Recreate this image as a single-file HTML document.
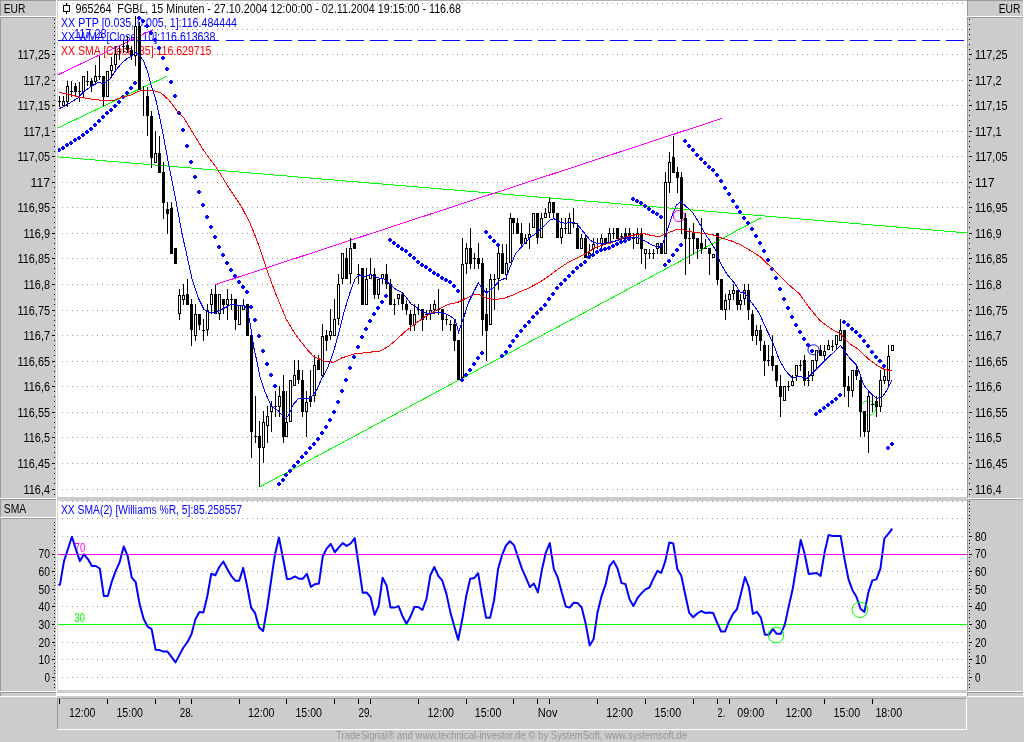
<!DOCTYPE html>
<html><head><meta charset="utf-8"><title>FGBL 15 Minuten</title>
<style>html,body{margin:0;padding:0;background:#cccccc;overflow:hidden}svg{display:block;will-change:transform}</style></head>
<body>
<svg width="1024" height="742" viewBox="0 0 1024 742" font-family="'Liberation Sans', Arial, sans-serif" font-size="12">
<rect x="0" y="0" width="1024" height="742" fill="#cccccc"/>
<g shape-rendering="crispEdges">
<rect x="56" y="0" width="2" height="696" fill="#ffffff"/>
<rect x="57" y="0" width="1" height="693" fill="#d4d4d4"/>
<rect x="58" y="1" width="909" height="496" fill="#ffffff"/>
<rect x="58" y="0" width="909" height="1" fill="#b0b0b0"/>
<rect x="58" y="501" width="909" height="189" fill="#ffffff"/>
<rect x="56" y="693" width="911" height="3" fill="#ffffff"/>
<rect x="0" y="0" width="56" height="1" fill="#999999"/>
<rect x="0" y="0" width="1" height="16" fill="#999999"/>
<rect x="0" y="16" width="56" height="1" fill="#ffffff"/>
<rect x="0" y="17" width="56" height="1" fill="#999999"/>
<rect x="0" y="17" width="1" height="481" fill="#999999"/>
<rect x="0" y="498" width="56" height="1" fill="#ffffff"/>
<rect x="0" y="499" width="56" height="1" fill="#999999"/>
<rect x="0" y="499" width="1" height="18" fill="#999999"/>
<rect x="0" y="517" width="56" height="1" fill="#ffffff"/>
<rect x="0" y="518" width="56" height="1" fill="#999999"/>
<rect x="0" y="518" width="1" height="173" fill="#999999"/>
<rect x="0" y="691" width="56" height="1" fill="#ffffff"/>
<rect x="0" y="692" width="56" height="1" fill="#999999"/>
<rect x="0" y="692" width="1" height="4" fill="#999999"/>
<rect x="0" y="696" width="57" height="1" fill="#ffffff"/>
<rect x="967" y="0" width="57" height="1" fill="#999999"/>
<rect x="967" y="0" width="1" height="16" fill="#999999"/>
<rect x="967" y="16" width="57" height="1" fill="#ffffff"/>
<rect x="967" y="17" width="57" height="1" fill="#999999"/>
<rect x="967" y="17" width="1" height="481" fill="#999999"/>
<rect x="967" y="498" width="57" height="1" fill="#ffffff"/>
<rect x="967" y="499" width="57" height="1" fill="#999999"/>
<rect x="967" y="499" width="1" height="192" fill="#999999"/>
<rect x="967" y="691" width="57" height="1" fill="#ffffff"/>
<rect x="967" y="692" width="57" height="1" fill="#999999"/>
<rect x="967" y="692" width="1" height="4" fill="#999999"/>
<rect x="967" y="696" width="57" height="1" fill="#ffffff"/>
<rect x="1023" y="0" width="1" height="697" fill="#ffffff"/>
<rect x="57" y="698" width="910" height="1" fill="#999999"/>
<rect x="57" y="698" width="1" height="32" fill="#999999"/>
<rect x="57" y="729" width="910" height="1" fill="#ffffff"/>
<rect x="966" y="698" width="1" height="32" fill="#ffffff"/>
</g>
<defs><pattern id="hd" x="2" y="0" width="5" height="1" patternUnits="userSpaceOnUse"><rect x="0" y="0" width="1" height="1" fill="#9a9a9a"/></pattern></defs>
<g shape-rendering="crispEdges">
<rect x="62" y="3" width="903" height="1" fill="url(#hd)"/>
<rect x="62" y="29" width="903" height="1" fill="url(#hd)"/>
<rect x="62" y="54" width="903" height="1" fill="url(#hd)"/>
<rect x="62" y="80" width="903" height="1" fill="url(#hd)"/>
<rect x="62" y="105" width="903" height="1" fill="url(#hd)"/>
<rect x="62" y="131" width="903" height="1" fill="url(#hd)"/>
<rect x="62" y="156" width="903" height="1" fill="url(#hd)"/>
<rect x="62" y="182" width="903" height="1" fill="url(#hd)"/>
<rect x="62" y="207" width="903" height="1" fill="url(#hd)"/>
<rect x="62" y="233" width="903" height="1" fill="url(#hd)"/>
<rect x="62" y="258" width="903" height="1" fill="url(#hd)"/>
<rect x="62" y="284" width="903" height="1" fill="url(#hd)"/>
<rect x="62" y="310" width="903" height="1" fill="url(#hd)"/>
<rect x="62" y="335" width="903" height="1" fill="url(#hd)"/>
<rect x="62" y="361" width="903" height="1" fill="url(#hd)"/>
<rect x="62" y="386" width="903" height="1" fill="url(#hd)"/>
<rect x="62" y="412" width="903" height="1" fill="url(#hd)"/>
<rect x="62" y="437" width="903" height="1" fill="url(#hd)"/>
<rect x="62" y="463" width="903" height="1" fill="url(#hd)"/>
<rect x="62" y="489" width="903" height="1" fill="url(#hd)"/>
<rect x="62" y="677" width="903" height="1" fill="url(#hd)"/>
<rect x="62" y="659" width="903" height="1" fill="url(#hd)"/>
<rect x="62" y="642" width="903" height="1" fill="url(#hd)"/>
<rect x="62" y="624" width="903" height="1" fill="url(#hd)"/>
<rect x="62" y="606" width="903" height="1" fill="url(#hd)"/>
<rect x="62" y="589" width="903" height="1" fill="url(#hd)"/>
<rect x="62" y="571" width="903" height="1" fill="url(#hd)"/>
<rect x="62" y="554" width="903" height="1" fill="url(#hd)"/>
<rect x="62" y="536" width="903" height="1" fill="url(#hd)"/>
<rect x="62" y="518" width="903" height="1" fill="url(#hd)"/>
<rect x="62" y="501" width="903" height="1" fill="url(#hd)"/>
<rect x="54" y="59" width="1" height="1" fill="#000"/>
<rect x="969" y="59" width="1" height="1" fill="#000"/>
<rect x="54" y="64" width="1" height="1" fill="#000"/>
<rect x="969" y="64" width="1" height="1" fill="#000"/>
<rect x="54" y="69" width="1" height="1" fill="#000"/>
<rect x="969" y="69" width="1" height="1" fill="#000"/>
<rect x="54" y="74" width="1" height="1" fill="#000"/>
<rect x="969" y="74" width="1" height="1" fill="#000"/>
<rect x="54" y="85" width="1" height="1" fill="#000"/>
<rect x="969" y="85" width="1" height="1" fill="#000"/>
<rect x="54" y="90" width="1" height="1" fill="#000"/>
<rect x="969" y="90" width="1" height="1" fill="#000"/>
<rect x="54" y="95" width="1" height="1" fill="#000"/>
<rect x="969" y="95" width="1" height="1" fill="#000"/>
<rect x="54" y="100" width="1" height="1" fill="#000"/>
<rect x="969" y="100" width="1" height="1" fill="#000"/>
<rect x="54" y="110" width="1" height="1" fill="#000"/>
<rect x="969" y="110" width="1" height="1" fill="#000"/>
<rect x="54" y="115" width="1" height="1" fill="#000"/>
<rect x="969" y="115" width="1" height="1" fill="#000"/>
<rect x="54" y="120" width="1" height="1" fill="#000"/>
<rect x="969" y="120" width="1" height="1" fill="#000"/>
<rect x="54" y="125" width="1" height="1" fill="#000"/>
<rect x="969" y="125" width="1" height="1" fill="#000"/>
<rect x="54" y="136" width="1" height="1" fill="#000"/>
<rect x="969" y="136" width="1" height="1" fill="#000"/>
<rect x="54" y="141" width="1" height="1" fill="#000"/>
<rect x="969" y="141" width="1" height="1" fill="#000"/>
<rect x="54" y="146" width="1" height="1" fill="#000"/>
<rect x="969" y="146" width="1" height="1" fill="#000"/>
<rect x="54" y="151" width="1" height="1" fill="#000"/>
<rect x="969" y="151" width="1" height="1" fill="#000"/>
<rect x="54" y="161" width="1" height="1" fill="#000"/>
<rect x="969" y="161" width="1" height="1" fill="#000"/>
<rect x="54" y="166" width="1" height="1" fill="#000"/>
<rect x="969" y="166" width="1" height="1" fill="#000"/>
<rect x="54" y="171" width="1" height="1" fill="#000"/>
<rect x="969" y="171" width="1" height="1" fill="#000"/>
<rect x="54" y="176" width="1" height="1" fill="#000"/>
<rect x="969" y="176" width="1" height="1" fill="#000"/>
<rect x="54" y="187" width="1" height="1" fill="#000"/>
<rect x="969" y="187" width="1" height="1" fill="#000"/>
<rect x="54" y="192" width="1" height="1" fill="#000"/>
<rect x="969" y="192" width="1" height="1" fill="#000"/>
<rect x="54" y="197" width="1" height="1" fill="#000"/>
<rect x="969" y="197" width="1" height="1" fill="#000"/>
<rect x="54" y="202" width="1" height="1" fill="#000"/>
<rect x="969" y="202" width="1" height="1" fill="#000"/>
<rect x="54" y="212" width="1" height="1" fill="#000"/>
<rect x="969" y="212" width="1" height="1" fill="#000"/>
<rect x="54" y="217" width="1" height="1" fill="#000"/>
<rect x="969" y="217" width="1" height="1" fill="#000"/>
<rect x="54" y="222" width="1" height="1" fill="#000"/>
<rect x="969" y="222" width="1" height="1" fill="#000"/>
<rect x="54" y="227" width="1" height="1" fill="#000"/>
<rect x="969" y="227" width="1" height="1" fill="#000"/>
<rect x="54" y="238" width="1" height="1" fill="#000"/>
<rect x="969" y="238" width="1" height="1" fill="#000"/>
<rect x="54" y="243" width="1" height="1" fill="#000"/>
<rect x="969" y="243" width="1" height="1" fill="#000"/>
<rect x="54" y="248" width="1" height="1" fill="#000"/>
<rect x="969" y="248" width="1" height="1" fill="#000"/>
<rect x="54" y="253" width="1" height="1" fill="#000"/>
<rect x="969" y="253" width="1" height="1" fill="#000"/>
<rect x="54" y="263" width="1" height="1" fill="#000"/>
<rect x="969" y="263" width="1" height="1" fill="#000"/>
<rect x="54" y="268" width="1" height="1" fill="#000"/>
<rect x="969" y="268" width="1" height="1" fill="#000"/>
<rect x="54" y="273" width="1" height="1" fill="#000"/>
<rect x="969" y="273" width="1" height="1" fill="#000"/>
<rect x="54" y="278" width="1" height="1" fill="#000"/>
<rect x="969" y="278" width="1" height="1" fill="#000"/>
<rect x="54" y="289" width="1" height="1" fill="#000"/>
<rect x="969" y="289" width="1" height="1" fill="#000"/>
<rect x="54" y="294" width="1" height="1" fill="#000"/>
<rect x="969" y="294" width="1" height="1" fill="#000"/>
<rect x="54" y="299" width="1" height="1" fill="#000"/>
<rect x="969" y="299" width="1" height="1" fill="#000"/>
<rect x="54" y="304" width="1" height="1" fill="#000"/>
<rect x="969" y="304" width="1" height="1" fill="#000"/>
<rect x="54" y="315" width="1" height="1" fill="#000"/>
<rect x="969" y="315" width="1" height="1" fill="#000"/>
<rect x="54" y="320" width="1" height="1" fill="#000"/>
<rect x="969" y="320" width="1" height="1" fill="#000"/>
<rect x="54" y="325" width="1" height="1" fill="#000"/>
<rect x="969" y="325" width="1" height="1" fill="#000"/>
<rect x="54" y="330" width="1" height="1" fill="#000"/>
<rect x="969" y="330" width="1" height="1" fill="#000"/>
<rect x="54" y="340" width="1" height="1" fill="#000"/>
<rect x="969" y="340" width="1" height="1" fill="#000"/>
<rect x="54" y="345" width="1" height="1" fill="#000"/>
<rect x="969" y="345" width="1" height="1" fill="#000"/>
<rect x="54" y="350" width="1" height="1" fill="#000"/>
<rect x="969" y="350" width="1" height="1" fill="#000"/>
<rect x="54" y="355" width="1" height="1" fill="#000"/>
<rect x="969" y="355" width="1" height="1" fill="#000"/>
<rect x="54" y="366" width="1" height="1" fill="#000"/>
<rect x="969" y="366" width="1" height="1" fill="#000"/>
<rect x="54" y="371" width="1" height="1" fill="#000"/>
<rect x="969" y="371" width="1" height="1" fill="#000"/>
<rect x="54" y="376" width="1" height="1" fill="#000"/>
<rect x="969" y="376" width="1" height="1" fill="#000"/>
<rect x="54" y="381" width="1" height="1" fill="#000"/>
<rect x="969" y="381" width="1" height="1" fill="#000"/>
<rect x="54" y="391" width="1" height="1" fill="#000"/>
<rect x="969" y="391" width="1" height="1" fill="#000"/>
<rect x="54" y="396" width="1" height="1" fill="#000"/>
<rect x="969" y="396" width="1" height="1" fill="#000"/>
<rect x="54" y="401" width="1" height="1" fill="#000"/>
<rect x="969" y="401" width="1" height="1" fill="#000"/>
<rect x="54" y="406" width="1" height="1" fill="#000"/>
<rect x="969" y="406" width="1" height="1" fill="#000"/>
<rect x="54" y="417" width="1" height="1" fill="#000"/>
<rect x="969" y="417" width="1" height="1" fill="#000"/>
<rect x="54" y="422" width="1" height="1" fill="#000"/>
<rect x="969" y="422" width="1" height="1" fill="#000"/>
<rect x="54" y="427" width="1" height="1" fill="#000"/>
<rect x="969" y="427" width="1" height="1" fill="#000"/>
<rect x="54" y="432" width="1" height="1" fill="#000"/>
<rect x="969" y="432" width="1" height="1" fill="#000"/>
<rect x="54" y="442" width="1" height="1" fill="#000"/>
<rect x="969" y="442" width="1" height="1" fill="#000"/>
<rect x="54" y="447" width="1" height="1" fill="#000"/>
<rect x="969" y="447" width="1" height="1" fill="#000"/>
<rect x="54" y="452" width="1" height="1" fill="#000"/>
<rect x="969" y="452" width="1" height="1" fill="#000"/>
<rect x="54" y="457" width="1" height="1" fill="#000"/>
<rect x="969" y="457" width="1" height="1" fill="#000"/>
<rect x="54" y="468" width="1" height="1" fill="#000"/>
<rect x="969" y="468" width="1" height="1" fill="#000"/>
<rect x="54" y="473" width="1" height="1" fill="#000"/>
<rect x="969" y="473" width="1" height="1" fill="#000"/>
<rect x="54" y="478" width="1" height="1" fill="#000"/>
<rect x="969" y="478" width="1" height="1" fill="#000"/>
<rect x="54" y="483" width="1" height="1" fill="#000"/>
<rect x="969" y="483" width="1" height="1" fill="#000"/>
<rect x="54" y="494" width="1" height="1" fill="#000"/>
<rect x="969" y="494" width="1" height="1" fill="#000"/>
<rect x="969" y="19" width="1" height="1" fill="#000"/>
<rect x="969" y="24" width="1" height="1" fill="#000"/>
<rect x="969" y="29" width="1" height="1" fill="#000"/>
<rect x="969" y="34" width="1" height="1" fill="#000"/>
<rect x="969" y="39" width="1" height="1" fill="#000"/>
<rect x="969" y="44" width="1" height="1" fill="#000"/>
<rect x="969" y="49" width="1" height="1" fill="#000"/>
<rect x="54" y="19" width="1" height="1" fill="#000"/>
<rect x="54" y="23" width="1" height="1" fill="#000"/>
<rect x="54" y="27" width="1" height="1" fill="#000"/>
<rect x="54" y="31" width="1" height="1" fill="#000"/>
<rect x="54" y="35" width="1" height="1" fill="#000"/>
<rect x="54" y="39" width="1" height="1" fill="#000"/>
<rect x="54" y="43" width="1" height="1" fill="#000"/>
<rect x="54" y="47" width="1" height="1" fill="#000"/>
<rect x="54" y="51" width="1" height="1" fill="#000"/>
<rect x="52" y="489" width="3" height="1" fill="#000"/>
<rect x="969" y="489" width="3" height="1" fill="#000"/>
<rect x="52" y="463" width="3" height="1" fill="#000"/>
<rect x="969" y="463" width="3" height="1" fill="#000"/>
<rect x="52" y="437" width="3" height="1" fill="#000"/>
<rect x="969" y="437" width="3" height="1" fill="#000"/>
<rect x="52" y="412" width="3" height="1" fill="#000"/>
<rect x="969" y="412" width="3" height="1" fill="#000"/>
<rect x="52" y="386" width="3" height="1" fill="#000"/>
<rect x="969" y="386" width="3" height="1" fill="#000"/>
<rect x="52" y="361" width="3" height="1" fill="#000"/>
<rect x="969" y="361" width="3" height="1" fill="#000"/>
<rect x="52" y="335" width="3" height="1" fill="#000"/>
<rect x="969" y="335" width="3" height="1" fill="#000"/>
<rect x="52" y="310" width="3" height="1" fill="#000"/>
<rect x="969" y="310" width="3" height="1" fill="#000"/>
<rect x="52" y="284" width="3" height="1" fill="#000"/>
<rect x="969" y="284" width="3" height="1" fill="#000"/>
<rect x="52" y="258" width="3" height="1" fill="#000"/>
<rect x="969" y="258" width="3" height="1" fill="#000"/>
<rect x="52" y="233" width="3" height="1" fill="#000"/>
<rect x="969" y="233" width="3" height="1" fill="#000"/>
<rect x="52" y="207" width="3" height="1" fill="#000"/>
<rect x="969" y="207" width="3" height="1" fill="#000"/>
<rect x="52" y="182" width="3" height="1" fill="#000"/>
<rect x="969" y="182" width="3" height="1" fill="#000"/>
<rect x="52" y="156" width="3" height="1" fill="#000"/>
<rect x="969" y="156" width="3" height="1" fill="#000"/>
<rect x="52" y="131" width="3" height="1" fill="#000"/>
<rect x="969" y="131" width="3" height="1" fill="#000"/>
<rect x="52" y="105" width="3" height="1" fill="#000"/>
<rect x="969" y="105" width="3" height="1" fill="#000"/>
<rect x="52" y="80" width="3" height="1" fill="#000"/>
<rect x="969" y="80" width="3" height="1" fill="#000"/>
<rect x="52" y="54" width="3" height="1" fill="#000"/>
<rect x="969" y="54" width="3" height="1" fill="#000"/>
<rect x="54" y="687" width="1" height="1" fill="#000"/>
<rect x="969" y="687" width="1" height="1" fill="#000"/>
<rect x="54" y="684" width="1" height="1" fill="#000"/>
<rect x="969" y="684" width="1" height="1" fill="#000"/>
<rect x="54" y="680" width="1" height="1" fill="#000"/>
<rect x="969" y="680" width="1" height="1" fill="#000"/>
<rect x="54" y="677" width="1" height="1" fill="#000"/>
<rect x="969" y="677" width="1" height="1" fill="#000"/>
<rect x="54" y="673" width="1" height="1" fill="#000"/>
<rect x="969" y="673" width="1" height="1" fill="#000"/>
<rect x="54" y="670" width="1" height="1" fill="#000"/>
<rect x="969" y="670" width="1" height="1" fill="#000"/>
<rect x="54" y="666" width="1" height="1" fill="#000"/>
<rect x="969" y="666" width="1" height="1" fill="#000"/>
<rect x="54" y="663" width="1" height="1" fill="#000"/>
<rect x="969" y="663" width="1" height="1" fill="#000"/>
<rect x="54" y="659" width="1" height="1" fill="#000"/>
<rect x="969" y="659" width="1" height="1" fill="#000"/>
<rect x="54" y="656" width="1" height="1" fill="#000"/>
<rect x="969" y="656" width="1" height="1" fill="#000"/>
<rect x="54" y="652" width="1" height="1" fill="#000"/>
<rect x="969" y="652" width="1" height="1" fill="#000"/>
<rect x="54" y="649" width="1" height="1" fill="#000"/>
<rect x="969" y="649" width="1" height="1" fill="#000"/>
<rect x="54" y="645" width="1" height="1" fill="#000"/>
<rect x="969" y="645" width="1" height="1" fill="#000"/>
<rect x="54" y="642" width="1" height="1" fill="#000"/>
<rect x="969" y="642" width="1" height="1" fill="#000"/>
<rect x="54" y="638" width="1" height="1" fill="#000"/>
<rect x="969" y="638" width="1" height="1" fill="#000"/>
<rect x="54" y="635" width="1" height="1" fill="#000"/>
<rect x="969" y="635" width="1" height="1" fill="#000"/>
<rect x="54" y="631" width="1" height="1" fill="#000"/>
<rect x="969" y="631" width="1" height="1" fill="#000"/>
<rect x="54" y="628" width="1" height="1" fill="#000"/>
<rect x="969" y="628" width="1" height="1" fill="#000"/>
<rect x="54" y="624" width="1" height="1" fill="#000"/>
<rect x="969" y="624" width="1" height="1" fill="#000"/>
<rect x="54" y="621" width="1" height="1" fill="#000"/>
<rect x="969" y="621" width="1" height="1" fill="#000"/>
<rect x="54" y="617" width="1" height="1" fill="#000"/>
<rect x="969" y="617" width="1" height="1" fill="#000"/>
<rect x="54" y="613" width="1" height="1" fill="#000"/>
<rect x="969" y="613" width="1" height="1" fill="#000"/>
<rect x="54" y="610" width="1" height="1" fill="#000"/>
<rect x="969" y="610" width="1" height="1" fill="#000"/>
<rect x="54" y="606" width="1" height="1" fill="#000"/>
<rect x="969" y="606" width="1" height="1" fill="#000"/>
<rect x="54" y="603" width="1" height="1" fill="#000"/>
<rect x="969" y="603" width="1" height="1" fill="#000"/>
<rect x="54" y="599" width="1" height="1" fill="#000"/>
<rect x="969" y="599" width="1" height="1" fill="#000"/>
<rect x="54" y="596" width="1" height="1" fill="#000"/>
<rect x="969" y="596" width="1" height="1" fill="#000"/>
<rect x="54" y="592" width="1" height="1" fill="#000"/>
<rect x="969" y="592" width="1" height="1" fill="#000"/>
<rect x="54" y="589" width="1" height="1" fill="#000"/>
<rect x="969" y="589" width="1" height="1" fill="#000"/>
<rect x="54" y="585" width="1" height="1" fill="#000"/>
<rect x="969" y="585" width="1" height="1" fill="#000"/>
<rect x="54" y="582" width="1" height="1" fill="#000"/>
<rect x="969" y="582" width="1" height="1" fill="#000"/>
<rect x="54" y="578" width="1" height="1" fill="#000"/>
<rect x="969" y="578" width="1" height="1" fill="#000"/>
<rect x="54" y="575" width="1" height="1" fill="#000"/>
<rect x="969" y="575" width="1" height="1" fill="#000"/>
<rect x="54" y="571" width="1" height="1" fill="#000"/>
<rect x="969" y="571" width="1" height="1" fill="#000"/>
<rect x="54" y="568" width="1" height="1" fill="#000"/>
<rect x="969" y="568" width="1" height="1" fill="#000"/>
<rect x="54" y="564" width="1" height="1" fill="#000"/>
<rect x="969" y="564" width="1" height="1" fill="#000"/>
<rect x="54" y="561" width="1" height="1" fill="#000"/>
<rect x="969" y="561" width="1" height="1" fill="#000"/>
<rect x="54" y="557" width="1" height="1" fill="#000"/>
<rect x="969" y="557" width="1" height="1" fill="#000"/>
<rect x="54" y="554" width="1" height="1" fill="#000"/>
<rect x="969" y="554" width="1" height="1" fill="#000"/>
<rect x="54" y="550" width="1" height="1" fill="#000"/>
<rect x="969" y="550" width="1" height="1" fill="#000"/>
<rect x="54" y="547" width="1" height="1" fill="#000"/>
<rect x="969" y="547" width="1" height="1" fill="#000"/>
<rect x="54" y="543" width="1" height="1" fill="#000"/>
<rect x="969" y="543" width="1" height="1" fill="#000"/>
<rect x="54" y="540" width="1" height="1" fill="#000"/>
<rect x="969" y="540" width="1" height="1" fill="#000"/>
<rect x="54" y="536" width="1" height="1" fill="#000"/>
<rect x="969" y="536" width="1" height="1" fill="#000"/>
<rect x="54" y="532" width="1" height="1" fill="#000"/>
<rect x="969" y="532" width="1" height="1" fill="#000"/>
<rect x="54" y="529" width="1" height="1" fill="#000"/>
<rect x="969" y="529" width="1" height="1" fill="#000"/>
<rect x="54" y="525" width="1" height="1" fill="#000"/>
<rect x="969" y="525" width="1" height="1" fill="#000"/>
<rect x="54" y="522" width="1" height="1" fill="#000"/>
<rect x="969" y="522" width="1" height="1" fill="#000"/>
<rect x="969" y="518" width="1" height="1" fill="#000"/>
<rect x="969" y="515" width="1" height="1" fill="#000"/>
<rect x="969" y="511" width="1" height="1" fill="#000"/>
<rect x="969" y="508" width="1" height="1" fill="#000"/>
<rect x="969" y="504" width="1" height="1" fill="#000"/>
<rect x="969" y="501" width="1" height="1" fill="#000"/>
<rect x="52" y="677" width="3" height="1" fill="#000"/>
<rect x="969" y="677" width="3" height="1" fill="#000"/>
<rect x="52" y="659" width="3" height="1" fill="#000"/>
<rect x="969" y="659" width="3" height="1" fill="#000"/>
<rect x="52" y="642" width="3" height="1" fill="#000"/>
<rect x="969" y="642" width="3" height="1" fill="#000"/>
<rect x="52" y="624" width="3" height="1" fill="#000"/>
<rect x="969" y="624" width="3" height="1" fill="#000"/>
<rect x="52" y="606" width="3" height="1" fill="#000"/>
<rect x="969" y="606" width="3" height="1" fill="#000"/>
<rect x="52" y="589" width="3" height="1" fill="#000"/>
<rect x="969" y="589" width="3" height="1" fill="#000"/>
<rect x="52" y="571" width="3" height="1" fill="#000"/>
<rect x="969" y="571" width="3" height="1" fill="#000"/>
<rect x="52" y="554" width="3" height="1" fill="#000"/>
<rect x="969" y="554" width="3" height="1" fill="#000"/>
<rect x="969" y="536" width="3" height="1" fill="#000"/>
<rect x="59" y="699" width="1" height="5" fill="#000"/>
<rect x="107" y="699" width="1" height="5" fill="#000"/>
<rect x="155" y="699" width="1" height="5" fill="#000"/>
<rect x="179" y="699" width="1" height="5" fill="#000"/>
<rect x="191" y="699" width="1" height="5" fill="#000"/>
<rect x="239" y="699" width="1" height="5" fill="#000"/>
<rect x="286" y="699" width="1" height="5" fill="#000"/>
<rect x="334" y="699" width="1" height="5" fill="#000"/>
<rect x="358" y="699" width="1" height="5" fill="#000"/>
<rect x="370" y="699" width="1" height="5" fill="#000"/>
<rect x="418" y="699" width="1" height="5" fill="#000"/>
<rect x="466" y="699" width="1" height="5" fill="#000"/>
<rect x="513" y="699" width="1" height="5" fill="#000"/>
<rect x="537" y="699" width="1" height="5" fill="#000"/>
<rect x="549" y="699" width="1" height="5" fill="#000"/>
<rect x="597" y="699" width="1" height="5" fill="#000"/>
<rect x="645" y="699" width="1" height="5" fill="#000"/>
<rect x="693" y="699" width="1" height="5" fill="#000"/>
<rect x="717" y="699" width="1" height="5" fill="#000"/>
<rect x="729" y="699" width="1" height="5" fill="#000"/>
<rect x="776" y="699" width="1" height="5" fill="#000"/>
<rect x="824" y="699" width="1" height="5" fill="#000"/>
<rect x="872" y="699" width="1" height="5" fill="#000"/>
</g>
<text x="23.5" y="493.8" fill="#000" text-anchor="start" font-size="12" textLength="26.5" lengthAdjust="spacingAndGlyphs">116,4</text>
<text x="975" y="493.8" fill="#000" text-anchor="start" font-size="12" textLength="26.5" lengthAdjust="spacingAndGlyphs">116,4</text>
<text x="17.5" y="467.8" fill="#000" text-anchor="start" font-size="12" textLength="32.5" lengthAdjust="spacingAndGlyphs">116,45</text>
<text x="975" y="467.8" fill="#000" text-anchor="start" font-size="12" textLength="32.5" lengthAdjust="spacingAndGlyphs">116,45</text>
<text x="23.5" y="441.8" fill="#000" text-anchor="start" font-size="12" textLength="26.5" lengthAdjust="spacingAndGlyphs">116,5</text>
<text x="975" y="441.8" fill="#000" text-anchor="start" font-size="12" textLength="26.5" lengthAdjust="spacingAndGlyphs">116,5</text>
<text x="17.5" y="416.8" fill="#000" text-anchor="start" font-size="12" textLength="32.5" lengthAdjust="spacingAndGlyphs">116,55</text>
<text x="975" y="416.8" fill="#000" text-anchor="start" font-size="12" textLength="32.5" lengthAdjust="spacingAndGlyphs">116,55</text>
<text x="23.5" y="390.8" fill="#000" text-anchor="start" font-size="12" textLength="26.5" lengthAdjust="spacingAndGlyphs">116,6</text>
<text x="975" y="390.8" fill="#000" text-anchor="start" font-size="12" textLength="26.5" lengthAdjust="spacingAndGlyphs">116,6</text>
<text x="17.5" y="365.8" fill="#000" text-anchor="start" font-size="12" textLength="32.5" lengthAdjust="spacingAndGlyphs">116,65</text>
<text x="975" y="365.8" fill="#000" text-anchor="start" font-size="12" textLength="32.5" lengthAdjust="spacingAndGlyphs">116,65</text>
<text x="23.5" y="339.8" fill="#000" text-anchor="start" font-size="12" textLength="26.5" lengthAdjust="spacingAndGlyphs">116,7</text>
<text x="975" y="339.8" fill="#000" text-anchor="start" font-size="12" textLength="26.5" lengthAdjust="spacingAndGlyphs">116,7</text>
<text x="17.5" y="314.8" fill="#000" text-anchor="start" font-size="12" textLength="32.5" lengthAdjust="spacingAndGlyphs">116,75</text>
<text x="975" y="314.8" fill="#000" text-anchor="start" font-size="12" textLength="32.5" lengthAdjust="spacingAndGlyphs">116,75</text>
<text x="23.5" y="288.8" fill="#000" text-anchor="start" font-size="12" textLength="26.5" lengthAdjust="spacingAndGlyphs">116,8</text>
<text x="975" y="288.8" fill="#000" text-anchor="start" font-size="12" textLength="26.5" lengthAdjust="spacingAndGlyphs">116,8</text>
<text x="17.5" y="262.8" fill="#000" text-anchor="start" font-size="12" textLength="32.5" lengthAdjust="spacingAndGlyphs">116,85</text>
<text x="975" y="262.8" fill="#000" text-anchor="start" font-size="12" textLength="32.5" lengthAdjust="spacingAndGlyphs">116,85</text>
<text x="23.5" y="237.8" fill="#000" text-anchor="start" font-size="12" textLength="26.5" lengthAdjust="spacingAndGlyphs">116,9</text>
<text x="975" y="237.8" fill="#000" text-anchor="start" font-size="12" textLength="26.5" lengthAdjust="spacingAndGlyphs">116,9</text>
<text x="17.5" y="211.8" fill="#000" text-anchor="start" font-size="12" textLength="32.5" lengthAdjust="spacingAndGlyphs">116,95</text>
<text x="975" y="211.8" fill="#000" text-anchor="start" font-size="12" textLength="32.5" lengthAdjust="spacingAndGlyphs">116,95</text>
<text x="30.5" y="186.8" fill="#000" text-anchor="start" font-size="12" textLength="19.5" lengthAdjust="spacingAndGlyphs">117</text>
<text x="975" y="186.8" fill="#000" text-anchor="start" font-size="12" textLength="19.5" lengthAdjust="spacingAndGlyphs">117</text>
<text x="17.5" y="160.8" fill="#000" text-anchor="start" font-size="12" textLength="32.5" lengthAdjust="spacingAndGlyphs">117,05</text>
<text x="975" y="160.8" fill="#000" text-anchor="start" font-size="12" textLength="32.5" lengthAdjust="spacingAndGlyphs">117,05</text>
<text x="23.5" y="135.8" fill="#000" text-anchor="start" font-size="12" textLength="26.5" lengthAdjust="spacingAndGlyphs">117,1</text>
<text x="975" y="135.8" fill="#000" text-anchor="start" font-size="12" textLength="26.5" lengthAdjust="spacingAndGlyphs">117,1</text>
<text x="17.5" y="109.8" fill="#000" text-anchor="start" font-size="12" textLength="32.5" lengthAdjust="spacingAndGlyphs">117,15</text>
<text x="975" y="109.8" fill="#000" text-anchor="start" font-size="12" textLength="32.5" lengthAdjust="spacingAndGlyphs">117,15</text>
<text x="23.5" y="84.8" fill="#000" text-anchor="start" font-size="12" textLength="26.5" lengthAdjust="spacingAndGlyphs">117,2</text>
<text x="975" y="84.8" fill="#000" text-anchor="start" font-size="12" textLength="26.5" lengthAdjust="spacingAndGlyphs">117,2</text>
<text x="17.5" y="58.8" fill="#000" text-anchor="start" font-size="12" textLength="32.5" lengthAdjust="spacingAndGlyphs">117,25</text>
<text x="975" y="58.8" fill="#000" text-anchor="start" font-size="12" textLength="32.5" lengthAdjust="spacingAndGlyphs">117,25</text>
<text x="44.5" y="681.7" fill="#000" text-anchor="start" font-size="12" textLength="5.5" lengthAdjust="spacingAndGlyphs">0</text>
<text x="975" y="681.7" fill="#000" text-anchor="start" font-size="12" textLength="5.5" lengthAdjust="spacingAndGlyphs">0</text>
<text x="38.5" y="664.1" fill="#000" text-anchor="start" font-size="12" textLength="11.5" lengthAdjust="spacingAndGlyphs">10</text>
<text x="975" y="664.1" fill="#000" text-anchor="start" font-size="12" textLength="11.5" lengthAdjust="spacingAndGlyphs">10</text>
<text x="38.5" y="646.5" fill="#000" text-anchor="start" font-size="12" textLength="11.5" lengthAdjust="spacingAndGlyphs">20</text>
<text x="975" y="646.5" fill="#000" text-anchor="start" font-size="12" textLength="11.5" lengthAdjust="spacingAndGlyphs">20</text>
<text x="38.5" y="628.9" fill="#000" text-anchor="start" font-size="12" textLength="11.5" lengthAdjust="spacingAndGlyphs">30</text>
<text x="975" y="628.9" fill="#000" text-anchor="start" font-size="12" textLength="11.5" lengthAdjust="spacingAndGlyphs">30</text>
<text x="38.5" y="611.2" fill="#000" text-anchor="start" font-size="12" textLength="11.5" lengthAdjust="spacingAndGlyphs">40</text>
<text x="975" y="611.2" fill="#000" text-anchor="start" font-size="12" textLength="11.5" lengthAdjust="spacingAndGlyphs">40</text>
<text x="38.5" y="593.6" fill="#000" text-anchor="start" font-size="12" textLength="11.5" lengthAdjust="spacingAndGlyphs">50</text>
<text x="975" y="593.6" fill="#000" text-anchor="start" font-size="12" textLength="11.5" lengthAdjust="spacingAndGlyphs">50</text>
<text x="38.5" y="576.0" fill="#000" text-anchor="start" font-size="12" textLength="11.5" lengthAdjust="spacingAndGlyphs">60</text>
<text x="975" y="576.0" fill="#000" text-anchor="start" font-size="12" textLength="11.5" lengthAdjust="spacingAndGlyphs">60</text>
<text x="38.5" y="558.4" fill="#000" text-anchor="start" font-size="12" textLength="11.5" lengthAdjust="spacingAndGlyphs">70</text>
<text x="975" y="558.4" fill="#000" text-anchor="start" font-size="12" textLength="11.5" lengthAdjust="spacingAndGlyphs">70</text>
<text x="975" y="540.8" fill="#000" text-anchor="start" font-size="12" textLength="11.5" lengthAdjust="spacingAndGlyphs">80</text>
<text x="3.8" y="13" fill="#000" text-anchor="start" font-size="12" textLength="21.6" lengthAdjust="spacingAndGlyphs">EUR</text>
<text x="998.8" y="13" fill="#000" text-anchor="start" font-size="12" textLength="21.6" lengthAdjust="spacingAndGlyphs">EUR</text>
<text x="3.8" y="513" fill="#000" text-anchor="start" font-size="12" textLength="22.5" lengthAdjust="spacingAndGlyphs">SMA</text>
<text x="68.9" y="717" fill="#000" text-anchor="start" font-size="12" textLength="26.6" lengthAdjust="spacingAndGlyphs">12:00</text>
<text x="116.4" y="717" fill="#000" text-anchor="start" font-size="12" textLength="26.6" lengthAdjust="spacingAndGlyphs">15:00</text>
<text x="179.7" y="717" fill="#000" text-anchor="start" font-size="12" textLength="13.6" lengthAdjust="spacingAndGlyphs">28.</text>
<text x="247.9" y="717" fill="#000" text-anchor="start" font-size="12" textLength="26.6" lengthAdjust="spacingAndGlyphs">12:00</text>
<text x="295.4" y="717" fill="#000" text-anchor="start" font-size="12" textLength="26.6" lengthAdjust="spacingAndGlyphs">15:00</text>
<text x="358.6" y="717" fill="#000" text-anchor="start" font-size="12" textLength="13.6" lengthAdjust="spacingAndGlyphs">29.</text>
<text x="427.4" y="717" fill="#000" text-anchor="start" font-size="12" textLength="26.6" lengthAdjust="spacingAndGlyphs">12:00</text>
<text x="474.8" y="717" fill="#000" text-anchor="start" font-size="12" textLength="26.6" lengthAdjust="spacingAndGlyphs">15:00</text>
<text x="537.8" y="717" fill="#000" text-anchor="start" font-size="12" textLength="19.6" lengthAdjust="spacingAndGlyphs">Nov</text>
<text x="606.3" y="717" fill="#000" text-anchor="start" font-size="12" textLength="26.6" lengthAdjust="spacingAndGlyphs">12:00</text>
<text x="654.5" y="717" fill="#000" text-anchor="start" font-size="12" textLength="26.6" lengthAdjust="spacingAndGlyphs">15:00</text>
<text x="717.6" y="717" fill="#000" text-anchor="start" font-size="12" textLength="7.6" lengthAdjust="spacingAndGlyphs">2.</text>
<text x="737.3" y="717" fill="#000" text-anchor="start" font-size="12" textLength="27" lengthAdjust="spacingAndGlyphs">09:00</text>
<text x="785.4" y="717" fill="#000" text-anchor="start" font-size="12" textLength="26.6" lengthAdjust="spacingAndGlyphs">12:00</text>
<text x="833.6" y="717" fill="#000" text-anchor="start" font-size="12" textLength="26.6" lengthAdjust="spacingAndGlyphs">15:00</text>
<text x="875.4" y="717" fill="#000" text-anchor="start" font-size="12" textLength="26.8" lengthAdjust="spacingAndGlyphs">18:00</text>
<text x="336" y="739" fill="#969696" text-anchor="start" font-size="10.5" textLength="351" lengthAdjust="spacingAndGlyphs">TradeSignal® and www.technical-investor.de © by  SystemSoft, www.systemsoft.de</text>
<g shape-rendering="crispEdges"><rect x="66" y="3" width="1" height="11" fill="#000"/><rect x="63.5" y="5.5" width="6" height="6" fill="#fff" stroke="#000" stroke-width="1"/></g>
<text x="75.6" y="13.3" fill="#000" text-anchor="start" font-size="12" textLength="385.4" lengthAdjust="spacingAndGlyphs">965264&#160; FGBL, 15 Minuten - 27.10.2004 12:00:00 - 02.11.2004 19:15:00 - 116.68</text>
<text x="61" y="27.3" fill="#0000ff" text-anchor="start" font-size="12" textLength="176" lengthAdjust="spacingAndGlyphs">XX PTP [0.035, 0.005, 1]:116.484444</text>
<text x="61" y="41.3" fill="#0000ff" text-anchor="start" font-size="12" textLength="154.3" lengthAdjust="spacingAndGlyphs">XX WMA [Close, 10]:116.613638</text>
<text x="61" y="55.3" fill="#ff0000" text-anchor="start" font-size="12" textLength="150.4" lengthAdjust="spacingAndGlyphs">XX SMA [Close, 35]:116.629715</text>
<text x="74" y="37.9" fill="#0000ff" text-anchor="start" font-size="12" textLength="32.5" lengthAdjust="spacingAndGlyphs">117,28</text>
<svg x="58" y="1" width="909" height="496" viewBox="58 1 909 496" overflow="hidden">
<g fill="none" stroke-width="1" shape-rendering="crispEdges">
<line x1="58" y1="40.5" x2="219" y2="40.5" stroke="#0000ff"/>
<line x1="226" y1="40.5" x2="967" y2="40.5" stroke="#0000ff" stroke-dasharray="18 6"/>
<line x1="58" y1="156.9" x2="967" y2="232.9" stroke="#00ff00"/>
<line x1="58" y1="127.8" x2="167.5" y2="75.8" stroke="#00ff00"/>
<line x1="58" y1="74.7" x2="152.5" y2="30" stroke="#ff00ff"/>
<line x1="215.4" y1="284.6" x2="722" y2="118.4" stroke="#ff00ff"/>
<line x1="259.4" y1="487.2" x2="761" y2="217.7" stroke="#00ff00"/>
</g>
<g fill="none" stroke-width="1">
<circle cx="679" cy="216" r="5.7" stroke="#ff00ff"/>
<ellipse cx="813.5" cy="349.8" rx="5.6" ry="5" stroke="#0000ff"/>
<circle cx="868.2" cy="408.2" r="7.5" stroke="#00ff00"/>
</g>
<g fill="#000" shape-rendering="crispEdges">
<rect x="59" y="96" width="1" height="11"/><rect x="58" y="101" width="3" height="1"/>
<rect x="63" y="96" width="1" height="11"/><rect x="62" y="101" width="3" height="5"/>
<rect x="63" y="102" width="1" height="3" fill="#fff"/>
<rect x="67" y="81" width="1" height="26"/><rect x="66" y="86" width="3" height="16"/>
<rect x="67" y="87" width="1" height="14" fill="#fff"/>
<rect x="71" y="81" width="1" height="16"/><rect x="70" y="91" width="3" height="1"/>
<rect x="75" y="83" width="1" height="14"/><rect x="74" y="86" width="3" height="6"/>
<rect x="79" y="82" width="1" height="20"/><rect x="78" y="91" width="3" height="1"/>
<rect x="83" y="76" width="1" height="21"/><rect x="82" y="76" width="3" height="16"/>
<rect x="83" y="77" width="1" height="14" fill="#fff"/>
<rect x="87" y="71" width="1" height="15"/><rect x="86" y="81" width="3" height="1"/>
<rect x="91" y="78" width="1" height="14"/><rect x="90" y="81" width="3" height="5"/>
<rect x="95" y="65" width="1" height="20"/><rect x="94" y="76" width="3" height="6"/>
<rect x="95" y="77" width="1" height="4" fill="#fff"/>
<rect x="99" y="56" width="1" height="24"/><rect x="98" y="76" width="3" height="1"/>
<rect x="103" y="76" width="1" height="30"/><rect x="102" y="76" width="3" height="21"/>
<rect x="107" y="71" width="1" height="26"/><rect x="106" y="71" width="3" height="26"/>
<rect x="107" y="72" width="1" height="24" fill="#fff"/>
<rect x="111" y="57" width="1" height="21"/><rect x="110" y="65" width="3" height="6"/>
<rect x="111" y="66" width="1" height="4" fill="#fff"/>
<rect x="115" y="46" width="1" height="24"/><rect x="114" y="54" width="3" height="11"/>
<rect x="115" y="55" width="1" height="9" fill="#fff"/>
<rect x="119" y="46" width="1" height="14"/><rect x="118" y="51" width="3" height="1"/>
<rect x="123" y="40" width="1" height="13"/><rect x="122" y="46" width="3" height="1"/>
<rect x="127" y="36" width="1" height="17"/><rect x="126" y="45" width="3" height="5"/>
<rect x="131" y="46" width="1" height="14"/><rect x="130" y="50" width="3" height="6"/>
<rect x="135" y="16" width="1" height="50"/><rect x="134" y="26" width="3" height="30"/>
<rect x="135" y="27" width="1" height="28" fill="#fff"/>
<rect x="139" y="22" width="1" height="68"/><rect x="138" y="26" width="3" height="64"/>
<rect x="143" y="86" width="1" height="30"/><rect x="142" y="90" width="3" height="1"/>
<rect x="147" y="87" width="1" height="49"/><rect x="146" y="96" width="3" height="20"/>
<rect x="151" y="111" width="1" height="57"/><rect x="150" y="116" width="3" height="42"/>
<rect x="155" y="131" width="1" height="32"/><rect x="154" y="153" width="3" height="10"/>
<rect x="155" y="154" width="1" height="8" fill="#fff"/>
<rect x="159" y="136" width="1" height="37"/><rect x="158" y="153" width="3" height="20"/>
<rect x="163" y="162" width="1" height="57"/><rect x="162" y="172" width="3" height="31"/>
<rect x="167" y="202" width="1" height="32"/><rect x="166" y="209" width="3" height="5"/>
<rect x="171" y="202" width="1" height="52"/><rect x="170" y="208" width="3" height="46"/>
<rect x="175" y="248" width="1" height="16"/><rect x="174" y="248" width="3" height="16"/>
<rect x="179" y="289" width="1" height="31"/><rect x="178" y="295" width="3" height="19"/>
<rect x="179" y="296" width="1" height="17" fill="#fff"/>
<rect x="183" y="284" width="1" height="21"/><rect x="182" y="295" width="3" height="5"/>
<rect x="183" y="296" width="1" height="3" fill="#fff"/>
<rect x="187" y="279" width="1" height="26"/><rect x="186" y="294" width="3" height="11"/>
<rect x="191" y="299" width="1" height="47"/><rect x="190" y="304" width="3" height="26"/>
<rect x="195" y="304" width="1" height="37"/><rect x="194" y="314" width="3" height="22"/>
<rect x="195" y="315" width="1" height="20" fill="#fff"/>
<rect x="199" y="314" width="1" height="16"/><rect x="198" y="314" width="3" height="11"/>
<rect x="203" y="319" width="1" height="22"/><rect x="202" y="330" width="3" height="1"/>
<rect x="207" y="304" width="1" height="32"/><rect x="206" y="310" width="3" height="20"/>
<rect x="207" y="311" width="1" height="18" fill="#fff"/>
<rect x="211" y="289" width="1" height="25"/><rect x="210" y="294" width="3" height="11"/>
<rect x="211" y="295" width="1" height="9" fill="#fff"/>
<rect x="215" y="285" width="1" height="29"/><rect x="214" y="294" width="3" height="20"/>
<rect x="219" y="294" width="1" height="26"/><rect x="218" y="294" width="3" height="20"/>
<rect x="219" y="295" width="1" height="18" fill="#fff"/>
<rect x="223" y="299" width="1" height="15"/><rect x="222" y="299" width="3" height="6"/>
<rect x="227" y="289" width="1" height="31"/><rect x="226" y="299" width="3" height="6"/>
<rect x="227" y="300" width="1" height="4" fill="#fff"/>
<rect x="231" y="294" width="1" height="16"/><rect x="230" y="299" width="3" height="1"/>
<rect x="235" y="299" width="1" height="31"/><rect x="234" y="299" width="3" height="21"/>
<rect x="239" y="305" width="1" height="20"/><rect x="238" y="305" width="3" height="20"/>
<rect x="239" y="306" width="1" height="18" fill="#fff"/>
<rect x="243" y="299" width="1" height="11"/><rect x="242" y="305" width="3" height="5"/>
<rect x="243" y="306" width="1" height="3" fill="#fff"/>
<rect x="247" y="304" width="1" height="32"/><rect x="246" y="304" width="3" height="32"/>
<rect x="251" y="335" width="1" height="123"/><rect x="250" y="335" width="3" height="97"/>
<rect x="255" y="396" width="1" height="47"/><rect x="254" y="436" width="3" height="1"/>
<rect x="259" y="421" width="1" height="66"/><rect x="258" y="436" width="3" height="12"/>
<rect x="263" y="411" width="1" height="52"/><rect x="262" y="422" width="3" height="26"/>
<rect x="263" y="423" width="1" height="24" fill="#fff"/>
<rect x="267" y="406" width="1" height="37"/><rect x="266" y="416" width="3" height="10"/>
<rect x="267" y="417" width="1" height="8" fill="#fff"/>
<rect x="271" y="401" width="1" height="31"/><rect x="270" y="406" width="3" height="6"/>
<rect x="271" y="407" width="1" height="4" fill="#fff"/>
<rect x="275" y="391" width="1" height="26"/><rect x="274" y="406" width="3" height="1"/>
<rect x="279" y="386" width="1" height="31"/><rect x="278" y="396" width="3" height="11"/>
<rect x="279" y="397" width="1" height="9" fill="#fff"/>
<rect x="283" y="375" width="1" height="68"/><rect x="282" y="391" width="3" height="46"/>
<rect x="286" y="391" width="1" height="46"/><rect x="285" y="422" width="3" height="15"/>
<rect x="286" y="423" width="1" height="13" fill="#fff"/>
<rect x="290" y="380" width="1" height="42"/><rect x="289" y="380" width="3" height="42"/>
<rect x="290" y="381" width="1" height="40" fill="#fff"/>
<rect x="294" y="360" width="1" height="26"/><rect x="293" y="375" width="3" height="11"/>
<rect x="294" y="376" width="1" height="9" fill="#fff"/>
<rect x="298" y="360" width="1" height="24"/><rect x="297" y="370" width="3" height="10"/>
<rect x="302" y="370" width="1" height="47"/><rect x="301" y="380" width="3" height="32"/>
<rect x="306" y="391" width="1" height="46"/><rect x="305" y="402" width="3" height="10"/>
<rect x="306" y="403" width="1" height="8" fill="#fff"/>
<rect x="310" y="370" width="1" height="37"/><rect x="309" y="396" width="3" height="6"/>
<rect x="314" y="355" width="1" height="47"/><rect x="313" y="365" width="3" height="31"/>
<rect x="314" y="366" width="1" height="29" fill="#fff"/>
<rect x="318" y="355" width="1" height="15"/><rect x="317" y="360" width="3" height="10"/>
<rect x="322" y="324" width="1" height="52"/><rect x="321" y="336" width="3" height="40"/>
<rect x="322" y="337" width="1" height="38" fill="#fff"/>
<rect x="326" y="330" width="1" height="21"/><rect x="325" y="335" width="3" height="6"/>
<rect x="330" y="309" width="1" height="31"/><rect x="329" y="331" width="3" height="5"/>
<rect x="330" y="332" width="1" height="3" fill="#fff"/>
<rect x="334" y="299" width="1" height="37"/><rect x="333" y="319" width="3" height="17"/>
<rect x="334" y="320" width="1" height="15" fill="#fff"/>
<rect x="338" y="274" width="1" height="51"/><rect x="337" y="284" width="3" height="35"/>
<rect x="338" y="285" width="1" height="33" fill="#fff"/>
<rect x="342" y="253" width="1" height="31"/><rect x="341" y="253" width="3" height="26"/>
<rect x="342" y="254" width="1" height="24" fill="#fff"/>
<rect x="346" y="248" width="1" height="31"/><rect x="345" y="258" width="3" height="21"/>
<rect x="350" y="238" width="1" height="46"/><rect x="349" y="248" width="3" height="26"/>
<rect x="350" y="249" width="1" height="24" fill="#fff"/>
<rect x="354" y="243" width="1" height="6"/><rect x="353" y="243" width="3" height="6"/>
<rect x="358" y="264" width="1" height="20"/><rect x="357" y="274" width="3" height="1"/>
<rect x="362" y="268" width="1" height="37"/><rect x="361" y="268" width="3" height="37"/>
<rect x="366" y="268" width="1" height="37"/><rect x="365" y="279" width="3" height="26"/>
<rect x="366" y="280" width="1" height="24" fill="#fff"/>
<rect x="370" y="258" width="1" height="21"/><rect x="369" y="274" width="3" height="5"/>
<rect x="370" y="275" width="1" height="3" fill="#fff"/>
<rect x="374" y="268" width="1" height="31"/><rect x="373" y="274" width="3" height="21"/>
<rect x="378" y="279" width="1" height="20"/><rect x="377" y="279" width="3" height="16"/>
<rect x="378" y="280" width="1" height="14" fill="#fff"/>
<rect x="382" y="274" width="1" height="10"/><rect x="381" y="274" width="3" height="5"/>
<rect x="382" y="275" width="1" height="3" fill="#fff"/>
<rect x="386" y="264" width="1" height="25"/><rect x="385" y="274" width="3" height="10"/>
<rect x="390" y="279" width="1" height="26"/><rect x="389" y="284" width="3" height="21"/>
<rect x="394" y="299" width="1" height="16"/><rect x="393" y="304" width="3" height="1"/>
<rect x="398" y="294" width="1" height="11"/><rect x="397" y="294" width="3" height="5"/>
<rect x="398" y="295" width="1" height="3" fill="#fff"/>
<rect x="402" y="294" width="1" height="16"/><rect x="401" y="294" width="3" height="10"/>
<rect x="406" y="300" width="1" height="15"/><rect x="405" y="304" width="3" height="6"/>
<rect x="410" y="310" width="1" height="21"/><rect x="409" y="314" width="3" height="11"/>
<rect x="414" y="304" width="1" height="27"/><rect x="413" y="314" width="3" height="11"/>
<rect x="414" y="315" width="1" height="9" fill="#fff"/>
<rect x="418" y="304" width="1" height="11"/><rect x="417" y="309" width="3" height="1"/>
<rect x="422" y="309" width="1" height="22"/><rect x="421" y="309" width="3" height="11"/>
<rect x="426" y="310" width="1" height="10"/><rect x="425" y="314" width="3" height="1"/>
<rect x="430" y="304" width="1" height="16"/><rect x="429" y="310" width="3" height="4"/>
<rect x="430" y="311" width="1" height="2" fill="#fff"/>
<rect x="434" y="300" width="1" height="14"/><rect x="433" y="304" width="3" height="6"/>
<rect x="434" y="305" width="1" height="4" fill="#fff"/>
<rect x="438" y="289" width="1" height="26"/><rect x="437" y="309" width="3" height="1"/>
<rect x="442" y="309" width="1" height="22"/><rect x="441" y="309" width="3" height="11"/>
<rect x="446" y="314" width="1" height="11"/><rect x="445" y="319" width="3" height="1"/>
<rect x="450" y="320" width="1" height="11"/><rect x="449" y="324" width="3" height="1"/>
<rect x="454" y="320" width="1" height="31"/><rect x="453" y="324" width="3" height="17"/>
<rect x="458" y="340" width="1" height="40"/><rect x="457" y="340" width="3" height="40"/>
<rect x="462" y="238" width="1" height="140"/><rect x="461" y="264" width="3" height="114"/>
<rect x="462" y="265" width="1" height="112" fill="#fff"/>
<rect x="466" y="243" width="1" height="31"/><rect x="465" y="248" width="3" height="16"/>
<rect x="466" y="249" width="1" height="14" fill="#fff"/>
<rect x="470" y="228" width="1" height="41"/><rect x="469" y="248" width="3" height="16"/>
<rect x="474" y="253" width="1" height="16"/><rect x="473" y="258" width="3" height="1"/>
<rect x="478" y="243" width="1" height="26"/><rect x="477" y="258" width="3" height="6"/>
<rect x="482" y="258" width="1" height="78"/><rect x="481" y="263" width="3" height="57"/>
<rect x="486" y="288" width="1" height="73"/><rect x="485" y="314" width="3" height="17"/>
<rect x="490" y="274" width="1" height="51"/><rect x="489" y="279" width="3" height="46"/>
<rect x="490" y="280" width="1" height="44" fill="#fff"/>
<rect x="494" y="274" width="1" height="36"/><rect x="493" y="279" width="3" height="1"/>
<rect x="498" y="244" width="1" height="46"/><rect x="497" y="253" width="3" height="26"/>
<rect x="498" y="254" width="1" height="24" fill="#fff"/>
<rect x="502" y="244" width="1" height="30"/><rect x="501" y="253" width="3" height="21"/>
<rect x="506" y="244" width="1" height="36"/><rect x="505" y="263" width="3" height="12"/>
<rect x="506" y="264" width="1" height="10" fill="#fff"/>
<rect x="510" y="213" width="1" height="50"/><rect x="509" y="218" width="3" height="45"/>
<rect x="510" y="219" width="1" height="43" fill="#fff"/>
<rect x="513" y="218" width="1" height="16"/><rect x="512" y="218" width="3" height="5"/>
<rect x="517" y="218" width="1" height="16"/><rect x="516" y="223" width="3" height="11"/>
<rect x="521" y="223" width="1" height="25"/><rect x="520" y="233" width="3" height="11"/>
<rect x="525" y="234" width="1" height="10"/><rect x="524" y="238" width="3" height="6"/>
<rect x="525" y="239" width="1" height="4" fill="#fff"/>
<rect x="529" y="223" width="1" height="26"/><rect x="528" y="234" width="3" height="4"/>
<rect x="529" y="235" width="1" height="2" fill="#fff"/>
<rect x="533" y="213" width="1" height="15"/><rect x="532" y="213" width="3" height="15"/>
<rect x="533" y="214" width="1" height="13" fill="#fff"/>
<rect x="537" y="213" width="1" height="31"/><rect x="536" y="213" width="3" height="25"/>
<rect x="541" y="213" width="1" height="25"/><rect x="540" y="218" width="3" height="20"/>
<rect x="541" y="219" width="1" height="18" fill="#fff"/>
<rect x="545" y="208" width="1" height="10"/><rect x="544" y="213" width="3" height="5"/>
<rect x="545" y="214" width="1" height="3" fill="#fff"/>
<rect x="549" y="198" width="1" height="20"/><rect x="548" y="202" width="3" height="11"/>
<rect x="549" y="203" width="1" height="9" fill="#fff"/>
<rect x="553" y="202" width="1" height="16"/><rect x="552" y="202" width="3" height="11"/>
<rect x="557" y="213" width="1" height="25"/><rect x="556" y="213" width="3" height="25"/>
<rect x="561" y="218" width="1" height="26"/><rect x="560" y="228" width="3" height="10"/>
<rect x="561" y="229" width="1" height="8" fill="#fff"/>
<rect x="565" y="218" width="1" height="16"/><rect x="564" y="228" width="3" height="1"/>
<rect x="569" y="213" width="1" height="21"/><rect x="568" y="218" width="3" height="16"/>
<rect x="569" y="219" width="1" height="14" fill="#fff"/>
<rect x="573" y="208" width="1" height="20"/><rect x="572" y="223" width="3" height="1"/>
<rect x="577" y="223" width="1" height="26"/><rect x="576" y="228" width="3" height="21"/>
<rect x="581" y="234" width="1" height="15"/><rect x="580" y="238" width="3" height="11"/>
<rect x="581" y="239" width="1" height="9" fill="#fff"/>
<rect x="585" y="234" width="1" height="24"/><rect x="584" y="238" width="3" height="20"/>
<rect x="589" y="244" width="1" height="14"/><rect x="588" y="253" width="3" height="3"/>
<rect x="589" y="254" width="1" height="1" fill="#fff"/>
<rect x="593" y="238" width="1" height="16"/><rect x="592" y="244" width="3" height="5"/>
<rect x="593" y="245" width="1" height="3" fill="#fff"/>
<rect x="597" y="238" width="1" height="11"/><rect x="596" y="243" width="3" height="1"/>
<rect x="601" y="234" width="1" height="15"/><rect x="600" y="238" width="3" height="6"/>
<rect x="601" y="239" width="1" height="4" fill="#fff"/>
<rect x="605" y="238" width="1" height="6"/><rect x="604" y="238" width="3" height="6"/>
<rect x="609" y="228" width="1" height="16"/><rect x="608" y="233" width="3" height="11"/>
<rect x="609" y="234" width="1" height="9" fill="#fff"/>
<rect x="613" y="228" width="1" height="11"/><rect x="612" y="233" width="3" height="1"/>
<rect x="617" y="228" width="1" height="13"/><rect x="616" y="228" width="3" height="11"/>
<rect x="621" y="233" width="1" height="10"/><rect x="620" y="236" width="3" height="1"/>
<rect x="625" y="228" width="1" height="11"/><rect x="624" y="233" width="3" height="6"/>
<rect x="629" y="228" width="1" height="11"/><rect x="628" y="233" width="3" height="6"/>
<rect x="633" y="233" width="1" height="16"/><rect x="632" y="238" width="3" height="1"/>
<rect x="637" y="228" width="1" height="16"/><rect x="636" y="233" width="3" height="11"/>
<rect x="637" y="234" width="1" height="9" fill="#fff"/>
<rect x="641" y="228" width="1" height="36"/><rect x="640" y="233" width="3" height="16"/>
<rect x="645" y="249" width="1" height="20"/><rect x="644" y="249" width="3" height="5"/>
<rect x="645" y="250" width="1" height="3" fill="#fff"/>
<rect x="649" y="249" width="1" height="10"/><rect x="648" y="253" width="3" height="1"/>
<rect x="653" y="249" width="1" height="10"/><rect x="652" y="253" width="3" height="1"/>
<rect x="657" y="243" width="1" height="11"/><rect x="656" y="243" width="3" height="6"/>
<rect x="657" y="244" width="1" height="4" fill="#fff"/>
<rect x="661" y="243" width="1" height="11"/><rect x="660" y="243" width="3" height="11"/>
<rect x="665" y="172" width="1" height="82"/><rect x="664" y="182" width="3" height="72"/>
<rect x="665" y="183" width="1" height="70" fill="#fff"/>
<rect x="669" y="152" width="1" height="41"/><rect x="668" y="162" width="3" height="21"/>
<rect x="669" y="163" width="1" height="19" fill="#fff"/>
<rect x="673" y="136" width="1" height="37"/><rect x="672" y="157" width="3" height="16"/>
<rect x="677" y="167" width="1" height="26"/><rect x="676" y="172" width="3" height="6"/>
<rect x="681" y="172" width="1" height="62"/><rect x="680" y="177" width="3" height="42"/>
<rect x="685" y="213" width="1" height="62"/><rect x="684" y="218" width="3" height="21"/>
<rect x="689" y="228" width="1" height="36"/><rect x="688" y="238" width="3" height="1"/>
<rect x="693" y="223" width="1" height="31"/><rect x="692" y="233" width="3" height="6"/>
<rect x="697" y="238" width="1" height="21"/><rect x="696" y="238" width="3" height="11"/>
<rect x="701" y="218" width="1" height="36"/><rect x="700" y="243" width="3" height="6"/>
<rect x="705" y="239" width="1" height="10"/><rect x="704" y="248" width="3" height="1"/>
<rect x="709" y="248" width="1" height="27"/><rect x="708" y="248" width="3" height="6"/>
<rect x="713" y="254" width="1" height="4"/><rect x="712" y="254" width="3" height="4"/>
<rect x="713" y="255" width="1" height="2" fill="#fff"/>
<rect x="717" y="233" width="1" height="52"/><rect x="716" y="233" width="3" height="47"/>
<rect x="721" y="279" width="1" height="31"/><rect x="720" y="279" width="3" height="31"/>
<rect x="725" y="294" width="1" height="26"/><rect x="724" y="300" width="3" height="10"/>
<rect x="725" y="301" width="1" height="8" fill="#fff"/>
<rect x="729" y="290" width="1" height="20"/><rect x="728" y="294" width="3" height="6"/>
<rect x="729" y="295" width="1" height="4" fill="#fff"/>
<rect x="733" y="284" width="1" height="16"/><rect x="732" y="290" width="3" height="4"/>
<rect x="733" y="291" width="1" height="2" fill="#fff"/>
<rect x="737" y="290" width="1" height="20"/><rect x="736" y="290" width="3" height="15"/>
<rect x="740" y="294" width="1" height="16"/><rect x="739" y="300" width="3" height="5"/>
<rect x="740" y="301" width="1" height="3" fill="#fff"/>
<rect x="744" y="284" width="1" height="21"/><rect x="743" y="290" width="3" height="9"/>
<rect x="744" y="291" width="1" height="7" fill="#fff"/>
<rect x="748" y="284" width="1" height="36"/><rect x="747" y="290" width="3" height="20"/>
<rect x="752" y="310" width="1" height="31"/><rect x="751" y="314" width="3" height="22"/>
<rect x="756" y="325" width="1" height="20"/><rect x="755" y="330" width="3" height="6"/>
<rect x="756" y="331" width="1" height="4" fill="#fff"/>
<rect x="760" y="325" width="1" height="26"/><rect x="759" y="330" width="3" height="11"/>
<rect x="764" y="341" width="1" height="35"/><rect x="763" y="345" width="3" height="16"/>
<rect x="768" y="345" width="1" height="21"/><rect x="767" y="360" width="3" height="1"/>
<rect x="772" y="335" width="1" height="36"/><rect x="771" y="356" width="3" height="10"/>
<rect x="776" y="365" width="1" height="22"/><rect x="775" y="365" width="3" height="16"/>
<rect x="780" y="375" width="1" height="42"/><rect x="779" y="386" width="3" height="11"/>
<rect x="784" y="386" width="1" height="15"/><rect x="783" y="386" width="3" height="15"/>
<rect x="784" y="387" width="1" height="13" fill="#fff"/>
<rect x="788" y="381" width="1" height="10"/><rect x="787" y="386" width="3" height="1"/>
<rect x="792" y="375" width="1" height="11"/><rect x="791" y="381" width="3" height="5"/>
<rect x="792" y="382" width="1" height="3" fill="#fff"/>
<rect x="796" y="365" width="1" height="16"/><rect x="795" y="365" width="3" height="11"/>
<rect x="796" y="366" width="1" height="9" fill="#fff"/>
<rect x="800" y="360" width="1" height="11"/><rect x="799" y="365" width="3" height="1"/>
<rect x="804" y="355" width="1" height="31"/><rect x="803" y="360" width="3" height="21"/>
<rect x="808" y="371" width="1" height="15"/><rect x="807" y="380" width="3" height="1"/>
<rect x="812" y="360" width="1" height="21"/><rect x="811" y="360" width="3" height="16"/>
<rect x="812" y="361" width="1" height="14" fill="#fff"/>
<rect x="816" y="350" width="1" height="20"/><rect x="815" y="350" width="3" height="11"/>
<rect x="816" y="351" width="1" height="9" fill="#fff"/>
<rect x="820" y="345" width="1" height="11"/><rect x="819" y="350" width="3" height="6"/>
<rect x="824" y="345" width="1" height="16"/><rect x="823" y="351" width="3" height="5"/>
<rect x="824" y="352" width="1" height="3" fill="#fff"/>
<rect x="828" y="340" width="1" height="10"/><rect x="827" y="345" width="3" height="5"/>
<rect x="828" y="346" width="1" height="3" fill="#fff"/>
<rect x="832" y="340" width="1" height="11"/><rect x="831" y="346" width="3" height="1"/>
<rect x="836" y="335" width="1" height="15"/><rect x="835" y="335" width="3" height="10"/>
<rect x="836" y="336" width="1" height="8" fill="#fff"/>
<rect x="840" y="319" width="1" height="22"/><rect x="839" y="330" width="3" height="11"/>
<rect x="840" y="331" width="1" height="9" fill="#fff"/>
<rect x="844" y="330" width="1" height="67"/><rect x="843" y="330" width="3" height="57"/>
<rect x="848" y="376" width="1" height="31"/><rect x="847" y="386" width="3" height="5"/>
<rect x="852" y="370" width="1" height="27"/><rect x="851" y="370" width="3" height="21"/>
<rect x="852" y="371" width="1" height="19" fill="#fff"/>
<rect x="856" y="366" width="1" height="14"/><rect x="855" y="370" width="3" height="6"/>
<rect x="860" y="376" width="1" height="61"/><rect x="859" y="380" width="3" height="32"/>
<rect x="864" y="411" width="1" height="26"/><rect x="863" y="411" width="3" height="21"/>
<rect x="868" y="391" width="1" height="62"/><rect x="867" y="396" width="3" height="36"/>
<rect x="868" y="397" width="1" height="34" fill="#fff"/>
<rect x="872" y="396" width="1" height="16"/><rect x="871" y="404" width="3" height="1"/>
<rect x="876" y="396" width="1" height="21"/><rect x="875" y="401" width="3" height="6"/>
<rect x="880" y="370" width="1" height="42"/><rect x="879" y="380" width="3" height="27"/>
<rect x="880" y="381" width="1" height="25" fill="#fff"/>
<rect x="884" y="370" width="1" height="14"/><rect x="883" y="376" width="3" height="5"/>
<rect x="884" y="377" width="1" height="3" fill="#fff"/>
<rect x="888" y="345" width="1" height="41"/><rect x="887" y="356" width="3" height="25"/>
<rect x="888" y="357" width="1" height="23" fill="#fff"/>
<rect x="892" y="345" width="1" height="6"/><rect x="891" y="345" width="3" height="6"/>
<rect x="892" y="346" width="1" height="4" fill="#fff"/>
</g>
<g fill="#0000ff" shape-rendering="crispEdges">
<rect x="58" y="148" width="2" height="4"/><rect x="57" y="149" width="4" height="2"/>
<rect x="62" y="146" width="2" height="4"/><rect x="61" y="147" width="4" height="2"/>
<rect x="66" y="143" width="2" height="4"/><rect x="65" y="144" width="4" height="2"/>
<rect x="70" y="141" width="2" height="4"/><rect x="69" y="142" width="4" height="2"/>
<rect x="74" y="138" width="2" height="4"/><rect x="73" y="139" width="4" height="2"/>
<rect x="78" y="136" width="2" height="4"/><rect x="77" y="137" width="4" height="2"/>
<rect x="82" y="133" width="2" height="4"/><rect x="81" y="134" width="4" height="2"/>
<rect x="86" y="130" width="2" height="4"/><rect x="85" y="131" width="4" height="2"/>
<rect x="90" y="127" width="2" height="4"/><rect x="89" y="128" width="4" height="2"/>
<rect x="94" y="123" width="2" height="4"/><rect x="93" y="124" width="4" height="2"/>
<rect x="98" y="119" width="2" height="4"/><rect x="97" y="120" width="4" height="2"/>
<rect x="102" y="115" width="2" height="4"/><rect x="101" y="116" width="4" height="2"/>
<rect x="106" y="111" width="2" height="4"/><rect x="105" y="112" width="4" height="2"/>
<rect x="110" y="108" width="2" height="4"/><rect x="109" y="109" width="4" height="2"/>
<rect x="114" y="104" width="2" height="4"/><rect x="113" y="105" width="4" height="2"/>
<rect x="118" y="100" width="2" height="4"/><rect x="117" y="101" width="4" height="2"/>
<rect x="122" y="95" width="2" height="4"/><rect x="121" y="96" width="4" height="2"/>
<rect x="126" y="91" width="2" height="4"/><rect x="125" y="92" width="4" height="2"/>
<rect x="130" y="86" width="2" height="4"/><rect x="129" y="87" width="4" height="2"/>
<rect x="134" y="81" width="2" height="4"/><rect x="133" y="82" width="4" height="2"/>
<rect x="138" y="16" width="2" height="4"/><rect x="137" y="17" width="4" height="2"/>
<rect x="142" y="19" width="2" height="4"/><rect x="141" y="20" width="4" height="2"/>
<rect x="146" y="24" width="2" height="4"/><rect x="145" y="25" width="4" height="2"/>
<rect x="150" y="31" width="2" height="4"/><rect x="149" y="32" width="4" height="2"/>
<rect x="154" y="38" width="2" height="4"/><rect x="153" y="39" width="4" height="2"/>
<rect x="158" y="46" width="2" height="4"/><rect x="157" y="47" width="4" height="2"/>
<rect x="162" y="56" width="2" height="4"/><rect x="161" y="57" width="4" height="2"/>
<rect x="166" y="67" width="2" height="4"/><rect x="165" y="68" width="4" height="2"/>
<rect x="170" y="80" width="2" height="4"/><rect x="169" y="81" width="4" height="2"/>
<rect x="174" y="94" width="2" height="4"/><rect x="173" y="95" width="4" height="2"/>
<rect x="178" y="111" width="2" height="4"/><rect x="177" y="112" width="4" height="2"/>
<rect x="182" y="128" width="2" height="4"/><rect x="181" y="129" width="4" height="2"/>
<rect x="186" y="144" width="2" height="4"/><rect x="185" y="145" width="4" height="2"/>
<rect x="190" y="160" width="2" height="4"/><rect x="189" y="161" width="4" height="2"/>
<rect x="194" y="175" width="2" height="4"/><rect x="193" y="176" width="4" height="2"/>
<rect x="198" y="190" width="2" height="4"/><rect x="197" y="191" width="4" height="2"/>
<rect x="202" y="203" width="2" height="4"/><rect x="201" y="204" width="4" height="2"/>
<rect x="206" y="215" width="2" height="4"/><rect x="205" y="216" width="4" height="2"/>
<rect x="210" y="225" width="2" height="4"/><rect x="209" y="226" width="4" height="2"/>
<rect x="214" y="235" width="2" height="4"/><rect x="213" y="236" width="4" height="2"/>
<rect x="218" y="245" width="2" height="4"/><rect x="217" y="246" width="4" height="2"/>
<rect x="222" y="253" width="2" height="4"/><rect x="221" y="254" width="4" height="2"/>
<rect x="226" y="261" width="2" height="4"/><rect x="225" y="262" width="4" height="2"/>
<rect x="230" y="268" width="2" height="4"/><rect x="229" y="269" width="4" height="2"/>
<rect x="234" y="274" width="2" height="4"/><rect x="233" y="275" width="4" height="2"/>
<rect x="238" y="280" width="2" height="4"/><rect x="237" y="281" width="4" height="2"/>
<rect x="242" y="285" width="2" height="4"/><rect x="241" y="286" width="4" height="2"/>
<rect x="246" y="290" width="2" height="4"/><rect x="245" y="291" width="4" height="2"/>
<rect x="250" y="305" width="2" height="4"/><rect x="249" y="306" width="4" height="2"/>
<rect x="254" y="318" width="2" height="4"/><rect x="253" y="319" width="4" height="2"/>
<rect x="258" y="334" width="2" height="4"/><rect x="257" y="335" width="4" height="2"/>
<rect x="262" y="349" width="2" height="4"/><rect x="261" y="350" width="4" height="2"/>
<rect x="266" y="362" width="2" height="4"/><rect x="265" y="363" width="4" height="2"/>
<rect x="270" y="373" width="2" height="4"/><rect x="269" y="374" width="4" height="2"/>
<rect x="274" y="384" width="2" height="4"/><rect x="273" y="385" width="4" height="2"/>
<rect x="278" y="482" width="2" height="4"/><rect x="277" y="483" width="4" height="2"/>
<rect x="282" y="478" width="2" height="4"/><rect x="281" y="479" width="4" height="2"/>
<rect x="285" y="473" width="2" height="4"/><rect x="284" y="474" width="4" height="2"/>
<rect x="289" y="469" width="2" height="4"/><rect x="288" y="470" width="4" height="2"/>
<rect x="293" y="464" width="2" height="4"/><rect x="292" y="465" width="4" height="2"/>
<rect x="297" y="460" width="2" height="4"/><rect x="296" y="461" width="4" height="2"/>
<rect x="301" y="455" width="2" height="4"/><rect x="300" y="456" width="4" height="2"/>
<rect x="305" y="451" width="2" height="4"/><rect x="304" y="452" width="4" height="2"/>
<rect x="309" y="446" width="2" height="4"/><rect x="308" y="447" width="4" height="2"/>
<rect x="313" y="442" width="2" height="4"/><rect x="312" y="443" width="4" height="2"/>
<rect x="317" y="437" width="2" height="4"/><rect x="316" y="438" width="4" height="2"/>
<rect x="321" y="431" width="2" height="4"/><rect x="320" y="432" width="4" height="2"/>
<rect x="325" y="425" width="2" height="4"/><rect x="324" y="426" width="4" height="2"/>
<rect x="329" y="418" width="2" height="4"/><rect x="328" y="419" width="4" height="2"/>
<rect x="333" y="410" width="2" height="4"/><rect x="332" y="411" width="4" height="2"/>
<rect x="337" y="400" width="2" height="4"/><rect x="336" y="401" width="4" height="2"/>
<rect x="341" y="389" width="2" height="4"/><rect x="340" y="390" width="4" height="2"/>
<rect x="345" y="378" width="2" height="4"/><rect x="344" y="379" width="4" height="2"/>
<rect x="349" y="366" width="2" height="4"/><rect x="348" y="367" width="4" height="2"/>
<rect x="353" y="355" width="2" height="4"/><rect x="352" y="356" width="4" height="2"/>
<rect x="357" y="345" width="2" height="4"/><rect x="356" y="346" width="4" height="2"/>
<rect x="361" y="335" width="2" height="4"/><rect x="360" y="336" width="4" height="2"/>
<rect x="365" y="327" width="2" height="4"/><rect x="364" y="328" width="4" height="2"/>
<rect x="369" y="319" width="2" height="4"/><rect x="368" y="320" width="4" height="2"/>
<rect x="373" y="312" width="2" height="4"/><rect x="372" y="313" width="4" height="2"/>
<rect x="377" y="306" width="2" height="4"/><rect x="376" y="307" width="4" height="2"/>
<rect x="381" y="300" width="2" height="4"/><rect x="380" y="301" width="4" height="2"/>
<rect x="385" y="294" width="2" height="4"/><rect x="384" y="295" width="4" height="2"/>
<rect x="389" y="238" width="2" height="4"/><rect x="388" y="239" width="4" height="2"/>
<rect x="393" y="241" width="2" height="4"/><rect x="392" y="242" width="4" height="2"/>
<rect x="397" y="244" width="2" height="4"/><rect x="396" y="245" width="4" height="2"/>
<rect x="401" y="247" width="2" height="4"/><rect x="400" y="248" width="4" height="2"/>
<rect x="405" y="249" width="2" height="4"/><rect x="404" y="250" width="4" height="2"/>
<rect x="409" y="253" width="2" height="4"/><rect x="408" y="254" width="4" height="2"/>
<rect x="413" y="256" width="2" height="4"/><rect x="412" y="257" width="4" height="2"/>
<rect x="417" y="260" width="2" height="4"/><rect x="416" y="261" width="4" height="2"/>
<rect x="421" y="263" width="2" height="4"/><rect x="420" y="264" width="4" height="2"/>
<rect x="425" y="265" width="2" height="4"/><rect x="424" y="266" width="4" height="2"/>
<rect x="429" y="268" width="2" height="4"/><rect x="428" y="269" width="4" height="2"/>
<rect x="433" y="271" width="2" height="4"/><rect x="432" y="272" width="4" height="2"/>
<rect x="437" y="273" width="2" height="4"/><rect x="436" y="274" width="4" height="2"/>
<rect x="441" y="276" width="2" height="4"/><rect x="440" y="277" width="4" height="2"/>
<rect x="445" y="278" width="2" height="4"/><rect x="444" y="279" width="4" height="2"/>
<rect x="449" y="280" width="2" height="4"/><rect x="448" y="281" width="4" height="2"/>
<rect x="453" y="284" width="2" height="4"/><rect x="452" y="285" width="4" height="2"/>
<rect x="457" y="289" width="2" height="4"/><rect x="456" y="290" width="4" height="2"/>
<rect x="461" y="378" width="2" height="4"/><rect x="460" y="379" width="4" height="2"/>
<rect x="465" y="373" width="2" height="4"/><rect x="464" y="374" width="4" height="2"/>
<rect x="469" y="368" width="2" height="4"/><rect x="468" y="369" width="4" height="2"/>
<rect x="473" y="362" width="2" height="4"/><rect x="472" y="363" width="4" height="2"/>
<rect x="477" y="356" width="2" height="4"/><rect x="476" y="357" width="4" height="2"/>
<rect x="481" y="351" width="2" height="4"/><rect x="480" y="352" width="4" height="2"/>
<rect x="485" y="230" width="2" height="4"/><rect x="484" y="231" width="4" height="2"/>
<rect x="489" y="235" width="2" height="4"/><rect x="488" y="236" width="4" height="2"/>
<rect x="493" y="239" width="2" height="4"/><rect x="492" y="240" width="4" height="2"/>
<rect x="497" y="243" width="2" height="4"/><rect x="496" y="244" width="4" height="2"/>
<rect x="501" y="354" width="2" height="4"/><rect x="500" y="355" width="4" height="2"/>
<rect x="505" y="350" width="2" height="4"/><rect x="504" y="351" width="4" height="2"/>
<rect x="509" y="344" width="2" height="4"/><rect x="508" y="345" width="4" height="2"/>
<rect x="512" y="339" width="2" height="4"/><rect x="511" y="340" width="4" height="2"/>
<rect x="516" y="334" width="2" height="4"/><rect x="515" y="335" width="4" height="2"/>
<rect x="520" y="329" width="2" height="4"/><rect x="519" y="330" width="4" height="2"/>
<rect x="524" y="324" width="2" height="4"/><rect x="523" y="325" width="4" height="2"/>
<rect x="528" y="320" width="2" height="4"/><rect x="527" y="321" width="4" height="2"/>
<rect x="532" y="315" width="2" height="4"/><rect x="531" y="316" width="4" height="2"/>
<rect x="536" y="311" width="2" height="4"/><rect x="535" y="312" width="4" height="2"/>
<rect x="540" y="307" width="2" height="4"/><rect x="539" y="308" width="4" height="2"/>
<rect x="544" y="303" width="2" height="4"/><rect x="543" y="304" width="4" height="2"/>
<rect x="548" y="297" width="2" height="4"/><rect x="547" y="298" width="4" height="2"/>
<rect x="552" y="292" width="2" height="4"/><rect x="551" y="293" width="4" height="2"/>
<rect x="556" y="286" width="2" height="4"/><rect x="555" y="287" width="4" height="2"/>
<rect x="560" y="282" width="2" height="4"/><rect x="559" y="283" width="4" height="2"/>
<rect x="564" y="278" width="2" height="4"/><rect x="563" y="279" width="4" height="2"/>
<rect x="568" y="274" width="2" height="4"/><rect x="567" y="275" width="4" height="2"/>
<rect x="572" y="270" width="2" height="4"/><rect x="571" y="271" width="4" height="2"/>
<rect x="576" y="266" width="2" height="4"/><rect x="575" y="267" width="4" height="2"/>
<rect x="580" y="263" width="2" height="4"/><rect x="579" y="264" width="4" height="2"/>
<rect x="584" y="260" width="2" height="4"/><rect x="583" y="261" width="4" height="2"/>
<rect x="588" y="255" width="2" height="4"/><rect x="587" y="256" width="4" height="2"/>
<rect x="592" y="253" width="2" height="4"/><rect x="591" y="254" width="4" height="2"/>
<rect x="596" y="250" width="2" height="4"/><rect x="595" y="251" width="4" height="2"/>
<rect x="600" y="248" width="2" height="4"/><rect x="599" y="249" width="4" height="2"/>
<rect x="604" y="247" width="2" height="4"/><rect x="603" y="248" width="4" height="2"/>
<rect x="608" y="246" width="2" height="4"/><rect x="607" y="247" width="4" height="2"/>
<rect x="612" y="244" width="2" height="4"/><rect x="611" y="245" width="4" height="2"/>
<rect x="616" y="242" width="2" height="4"/><rect x="615" y="243" width="4" height="2"/>
<rect x="620" y="240" width="2" height="4"/><rect x="619" y="241" width="4" height="2"/>
<rect x="624" y="239" width="2" height="4"/><rect x="623" y="240" width="4" height="2"/>
<rect x="628" y="237" width="2" height="4"/><rect x="627" y="238" width="4" height="2"/>
<rect x="632" y="197" width="2" height="4"/><rect x="631" y="198" width="4" height="2"/>
<rect x="636" y="199" width="2" height="4"/><rect x="635" y="200" width="4" height="2"/>
<rect x="640" y="201" width="2" height="4"/><rect x="639" y="202" width="4" height="2"/>
<rect x="644" y="204" width="2" height="4"/><rect x="643" y="205" width="4" height="2"/>
<rect x="648" y="207" width="2" height="4"/><rect x="647" y="208" width="4" height="2"/>
<rect x="652" y="210" width="2" height="4"/><rect x="651" y="211" width="4" height="2"/>
<rect x="656" y="212" width="2" height="4"/><rect x="655" y="213" width="4" height="2"/>
<rect x="660" y="215" width="2" height="4"/><rect x="659" y="216" width="4" height="2"/>
<rect x="664" y="263" width="2" height="4"/><rect x="663" y="264" width="4" height="2"/>
<rect x="668" y="259" width="2" height="4"/><rect x="667" y="260" width="4" height="2"/>
<rect x="672" y="253" width="2" height="4"/><rect x="671" y="254" width="4" height="2"/>
<rect x="676" y="248" width="2" height="4"/><rect x="675" y="249" width="4" height="2"/>
<rect x="680" y="243" width="2" height="4"/><rect x="679" y="244" width="4" height="2"/>
<rect x="684" y="139" width="2" height="4"/><rect x="683" y="140" width="4" height="2"/>
<rect x="688" y="144" width="2" height="4"/><rect x="687" y="145" width="4" height="2"/>
<rect x="692" y="148" width="2" height="4"/><rect x="691" y="149" width="4" height="2"/>
<rect x="696" y="153" width="2" height="4"/><rect x="695" y="154" width="4" height="2"/>
<rect x="700" y="157" width="2" height="4"/><rect x="699" y="158" width="4" height="2"/>
<rect x="704" y="161" width="2" height="4"/><rect x="703" y="162" width="4" height="2"/>
<rect x="708" y="165" width="2" height="4"/><rect x="707" y="166" width="4" height="2"/>
<rect x="712" y="168" width="2" height="4"/><rect x="711" y="169" width="4" height="2"/>
<rect x="716" y="173" width="2" height="4"/><rect x="715" y="174" width="4" height="2"/>
<rect x="720" y="179" width="2" height="4"/><rect x="719" y="180" width="4" height="2"/>
<rect x="724" y="186" width="2" height="4"/><rect x="723" y="187" width="4" height="2"/>
<rect x="728" y="192" width="2" height="4"/><rect x="727" y="193" width="4" height="2"/>
<rect x="732" y="199" width="2" height="4"/><rect x="731" y="200" width="4" height="2"/>
<rect x="736" y="205" width="2" height="4"/><rect x="735" y="206" width="4" height="2"/>
<rect x="739" y="210" width="2" height="4"/><rect x="738" y="211" width="4" height="2"/>
<rect x="743" y="216" width="2" height="4"/><rect x="742" y="217" width="4" height="2"/>
<rect x="747" y="221" width="2" height="4"/><rect x="746" y="222" width="4" height="2"/>
<rect x="751" y="227" width="2" height="4"/><rect x="750" y="228" width="4" height="2"/>
<rect x="755" y="234" width="2" height="4"/><rect x="754" y="235" width="4" height="2"/>
<rect x="759" y="241" width="2" height="4"/><rect x="758" y="242" width="4" height="2"/>
<rect x="763" y="249" width="2" height="4"/><rect x="762" y="250" width="4" height="2"/>
<rect x="767" y="258" width="2" height="4"/><rect x="766" y="259" width="4" height="2"/>
<rect x="771" y="267" width="2" height="4"/><rect x="770" y="268" width="4" height="2"/>
<rect x="775" y="276" width="2" height="4"/><rect x="774" y="277" width="4" height="2"/>
<rect x="779" y="287" width="2" height="4"/><rect x="778" y="288" width="4" height="2"/>
<rect x="783" y="297" width="2" height="4"/><rect x="782" y="298" width="4" height="2"/>
<rect x="787" y="306" width="2" height="4"/><rect x="786" y="307" width="4" height="2"/>
<rect x="791" y="315" width="2" height="4"/><rect x="790" y="316" width="4" height="2"/>
<rect x="795" y="323" width="2" height="4"/><rect x="794" y="324" width="4" height="2"/>
<rect x="799" y="330" width="2" height="4"/><rect x="798" y="331" width="4" height="2"/>
<rect x="803" y="337" width="2" height="4"/><rect x="802" y="338" width="4" height="2"/>
<rect x="807" y="343" width="2" height="4"/><rect x="806" y="344" width="4" height="2"/>
<rect x="811" y="349" width="2" height="4"/><rect x="810" y="350" width="4" height="2"/>
<rect x="815" y="412" width="2" height="4"/><rect x="814" y="413" width="4" height="2"/>
<rect x="819" y="409" width="2" height="4"/><rect x="818" y="410" width="4" height="2"/>
<rect x="823" y="406" width="2" height="4"/><rect x="822" y="407" width="4" height="2"/>
<rect x="827" y="403" width="2" height="4"/><rect x="826" y="404" width="4" height="2"/>
<rect x="831" y="400" width="2" height="4"/><rect x="830" y="401" width="4" height="2"/>
<rect x="835" y="397" width="2" height="4"/><rect x="834" y="398" width="4" height="2"/>
<rect x="839" y="393" width="2" height="4"/><rect x="838" y="394" width="4" height="2"/>
<rect x="843" y="320" width="2" height="4"/><rect x="842" y="321" width="4" height="2"/>
<rect x="847" y="323" width="2" height="4"/><rect x="846" y="324" width="4" height="2"/>
<rect x="851" y="327" width="2" height="4"/><rect x="850" y="328" width="4" height="2"/>
<rect x="855" y="330" width="2" height="4"/><rect x="854" y="331" width="4" height="2"/>
<rect x="859" y="334" width="2" height="4"/><rect x="858" y="335" width="4" height="2"/>
<rect x="863" y="339" width="2" height="4"/><rect x="862" y="340" width="4" height="2"/>
<rect x="867" y="344" width="2" height="4"/><rect x="866" y="345" width="4" height="2"/>
<rect x="871" y="350" width="2" height="4"/><rect x="870" y="351" width="4" height="2"/>
<rect x="875" y="355" width="2" height="4"/><rect x="874" y="356" width="4" height="2"/>
<rect x="879" y="359" width="2" height="4"/><rect x="878" y="360" width="4" height="2"/>
<rect x="883" y="364" width="2" height="4"/><rect x="882" y="365" width="4" height="2"/>
<rect x="887" y="446" width="2" height="4"/><rect x="886" y="447" width="4" height="2"/>
<rect x="891" y="442" width="2" height="4"/><rect x="890" y="443" width="4" height="2"/>
</g>
<g fill="none" stroke-width="1" shape-rendering="crispEdges">
<polyline points="59.1,92.5 68.5,94.4 78.6,96.9 93.6,99.4 106.0,100.7 115.0,100.0 121.0,97.5 131.0,95.0 138.7,91.3 143.7,90.3 152.5,90.3 161.3,93.1 168.8,100.0 176.3,110.0 183.8,117.8 203.3,150.0 218.2,170.3 227.6,186.0 241.7,207.1 249.5,221.9 256.5,239.1 262.0,254.8 266.5,268.8 275.1,292.2 286.0,318.8 295.4,334.5 305.7,347.8 313.5,356.4 324.5,361.1 333.8,362.3 341.7,357.9 354.2,354.0 368.2,352.4 380.8,350.9 388.6,346.2 395.0,340.8 404.4,332.2 415.3,323.6 426.3,315.8 437.2,310.0 448.2,304.4 457.6,302.5 465.4,298.6 473.2,295.0 479.5,294.7 485.7,297.8 495.1,299.7 504.5,298.1 513.9,294.7 516.9,292.9 527.9,288.5 538.8,282.7 548.2,276.5 557.6,269.5 567.0,263.2 576.4,258.5 585.7,253.8 595.1,247.6 604.5,244.4 611.0,243.1 620.3,238.6 631.3,235.5 643.8,233.6 651.6,235.5 659.4,236.7 667.2,233.2 675.1,230.0 681.3,229.2 689.1,231.6 701.7,233.2 712.6,234.7 722.0,238.2 731.4,241.0 740.8,244.9 750.1,250.4 760.0,256.6 779.1,275.0 788.5,284.4 799.4,293.8 808.8,307.1 819.8,320.4 832.3,329.7 840.1,333.6 849.5,343.8 857.3,348.5 868.2,358.7 877.6,365.7 883.9,369.3 891.7,370.5" stroke="#ff0000"/>
<polyline points="59.0,108.6 63.5,106.9 68.5,103.8 78.6,97.5 83.0,92.3 91.0,86.4 99.2,82.0 103.0,84.2 110.0,79.0 115.0,71.4 121.0,63.9 127.4,58.2 131.0,56.4 135.6,52.6 139.3,54.5 143.7,61.4 147.5,71.4 151.0,85.2 156.3,101.3 162.5,131.4 166.0,150.0 168.9,165.6 175.2,196.9 182.2,234.5 185.7,250.0 192.2,279.7 198.5,298.5 204.0,309.4 208.6,311.8 214.9,313.3 220.4,310.2 231.3,304.4 237.6,305.5 243.8,305.0 247.3,309.4 250.1,323.5 254.0,348.5 257.9,366.0 260.3,378.0 265.0,392.1 271.3,406.2 277.5,410.1 285.4,418.7 288.5,415.5 293.2,404.6 298.6,398.3 310.4,398.0 316.6,390.5 321.3,379.6 327.6,368.1 333.8,350.9 339.6,330.0 344.0,312.0 350.3,291.6 355.0,279.1 359.0,275.2 363.6,276.8 370.7,274.4 377.0,277.6 384.0,278.8 389.4,283.8 395.7,289.3 402.0,292.4 406.6,297.9 411.3,304.1 417.6,308.1 423.8,312.7 430.0,313.5 439.5,312.3 445.7,313.8 451.2,316.7 455.1,319.8 457.5,327.6 458.5,332.2 462.2,321.3 464.5,315.1 468.4,302.6 473.9,291.6 478.3,283.0 482.5,288.5 486.4,293.0 493.5,287.4 499.7,280.4 506.0,278.1 511.0,264.8 515.4,253.8 521.6,246.8 529.4,238.2 535.7,233.5 543.5,226.4 549.8,220.2 553.7,218.6 559.1,221.8 565.4,223.3 571.7,222.2 576.4,223.3 581.0,228.8 585.7,234.7 590.4,240.5 596.7,243.2 602.9,244.1 609.4,242.5 618.8,240.2 628.2,237.0 636.0,237.0 643.8,240.2 651.6,244.9 659.4,247.2 662.6,244.1 667.2,230.0 671.9,216.0 676.6,205.0 680.4,202.0 684.5,205.0 692.5,212.3 700.4,225.0 705.4,234.5 709.5,240.2 715.7,250.4 720.4,262.9 726.7,273.8 734.5,283.2 740.0,292.0 744.7,293.0 750.9,301.6 758.8,312.5 766.6,329.7 772.8,342.3 779.1,359.5 785.4,370.4 792.4,378.2 799.4,376.3 807.2,378.2 816.6,368.8 827.6,357.9 840.6,345.7 844.0,350.1 849.5,357.9 856.5,364.9 860.4,375.1 863.8,385.0 870.1,392.8 876.4,398.3 882.6,396.8 887.3,389.7 891.7,380.5" stroke="#0000ff"/>
</g>
</svg>
<text x="74.6" y="551.5" fill="#ff00ff" text-anchor="start" font-size="12" textLength="10.6" lengthAdjust="spacingAndGlyphs">70</text>
<text x="74.2" y="621.8" fill="#00ff00" text-anchor="start" font-size="12" textLength="10.8" lengthAdjust="spacingAndGlyphs">30</text>
<svg x="58" y="501" width="909" height="189" viewBox="58 501 909 189" overflow="hidden">
<g fill="none" shape-rendering="crispEdges" stroke-width="1">
<line x1="58" y1="554.2" x2="967" y2="554.2" stroke="#ff00ff"/>
<line x1="58" y1="624.5" x2="967" y2="624.5" stroke="#00ff00"/>
</g>
<polyline points="58.4,585.0 60.0,584.6 64.0,561.1 68.0,548.8 71.9,536.7 75.9,549.4 79.9,561.1 83.9,554.3 87.9,559.1 91.9,566.0 95.8,566.0 99.8,568.5 103.8,595.9 107.8,595.9 111.8,581.6 115.7,570.9 119.7,562.1 123.7,546.4 127.7,556.2 131.7,577.3 135.7,582.2 139.6,604.1 143.6,618.8 147.6,626.6 151.6,629.1 155.6,649.7 159.6,650.1 163.5,651.6 167.5,651.6 171.5,656.9 175.5,662.4 179.5,654.9 183.4,647.5 187.4,642.2 191.4,634.4 195.4,619.2 199.4,611.9 203.4,612.5 207.3,596.3 211.3,573.8 215.3,575.2 219.3,567.0 223.3,561.5 227.3,568.9 231.2,575.8 235.2,580.7 239.2,580.7 243.2,567.9 247.2,586.5 251.1,607.6 255.1,613.2 259.1,627.6 263.1,631.1 267.1,608.0 271.1,580.7 275.0,554.3 279.0,537.6 283.0,558.2 287.0,579.1 291.0,578.7 295.0,576.4 298.9,578.7 302.9,578.7 306.9,573.8 310.9,586.9 314.9,584.2 318.9,583.6 322.8,556.2 326.8,548.4 330.8,543.9 334.8,552.3 338.8,547.4 342.7,543.1 346.7,545.9 350.7,543.5 354.7,538.0 358.7,565.4 362.7,592.8 366.6,592.4 370.6,597.3 374.6,614.9 378.6,606.1 382.6,577.7 386.6,585.5 390.5,607.6 394.5,607.6 398.5,606.1 402.5,616.2 406.5,623.7 410.4,616.8 414.4,607.0 418.4,607.0 422.4,610.0 426.4,599.2 430.4,575.2 434.3,567.0 438.3,575.8 442.3,580.7 446.3,593.4 450.3,611.9 454.3,626.6 458.2,639.9 462.2,619.8 466.2,596.3 470.2,578.7 474.2,578.1 478.1,573.2 482.1,596.3 486.1,617.8 490.1,617.8 494.1,600.2 498.1,568.9 502.0,555.2 506.0,545.5 510.0,541.2 514.0,545.1 518.0,557.2 522.0,568.9 525.9,577.7 529.9,587.1 533.9,583.6 537.9,592.4 541.9,569.9 545.9,552.3 549.8,543.1 553.8,568.9 557.8,577.7 561.8,592.4 565.8,606.5 569.7,607.6 573.7,602.7 577.7,603.1 581.7,607.6 585.7,623.7 589.7,645.6 593.6,638.9 597.6,611.9 601.6,595.9 605.6,584.6 609.6,566.0 613.6,561.1 617.5,568.5 621.5,583.0 625.5,584.1 629.5,599.2 633.5,606.0 637.4,598.2 641.4,593.4 645.4,589.4 649.4,587.5 653.4,578.7 657.4,570.9 661.3,572.8 665.3,561.1 669.3,542.5 673.3,543.5 677.3,568.9 681.3,575.8 685.2,594.3 689.2,612.9 693.2,617.2 697.2,613.5 701.2,611.0 705.1,612.9 709.1,612.5 713.1,612.9 717.1,622.7 721.1,631.5 725.1,631.5 729.0,621.7 733.0,613.9 737.0,609.0 741.0,593.4 745.0,577.1 749.0,587.5 752.9,613.9 756.9,611.9 760.9,617.8 764.9,634.8 768.9,634.8 772.9,629.1 776.8,633.8 780.8,633.8 784.8,624.6 788.8,606.1 792.8,588.5 796.7,564.5 800.7,540.0 804.7,554.0 808.7,574.0 812.7,573.4 816.7,573.0 820.6,576.0 824.6,552.2 828.6,535.1 832.6,535.9 836.6,535.9 840.6,535.9 844.5,558.9 848.5,579.4 852.5,590.2 856.5,597.0 860.5,608.8 864.4,612.1 868.4,592.2 872.4,580.4 876.4,579.4 880.4,568.7 884.4,538.4 888.3,533.9 892.3,528.6" fill="none" stroke="#0000ff" stroke-width="2" stroke-linejoin="round"/>
<g fill="none" stroke-width="1"><circle cx="776" cy="635" r="7.8" stroke="#00ff00"/><circle cx="859.9" cy="609.8" r="7.8" stroke="#00ff00"/></g>
</svg>
<text x="61" y="514" fill="#0000ff" text-anchor="start" font-size="12" textLength="181" lengthAdjust="spacingAndGlyphs">XX SMA(2) [Williams %R, 5]:85.258557</text>
</svg>
</body></html>
